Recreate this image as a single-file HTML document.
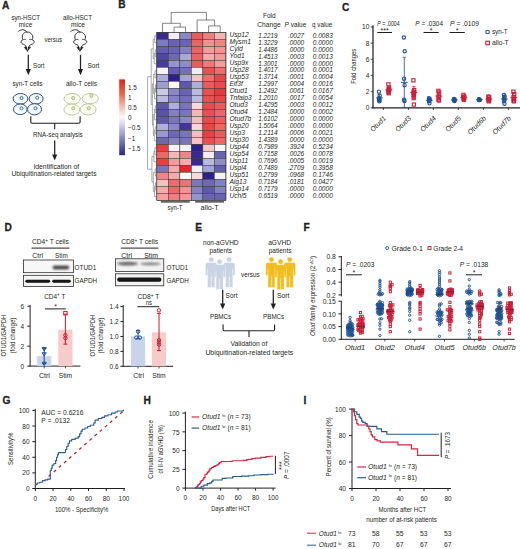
<!DOCTYPE html>
<html><head><meta charset="utf-8"><style>
html,body{margin:0;padding:0;background:#fff;}
svg{display:block;font-family:"Liberation Sans", sans-serif;}
text{stroke:#231f20;stroke-width:0.0px;paint-order:stroke;}
</style></head><body>
<svg width="520" height="549" viewBox="0 0 520 549" fill="#231f20">
<rect width="520" height="549" fill="#fff"/>
<text x="2.00" y="8.60" font-size="10.2" font-weight="bold" style="stroke:#231f20;stroke-width:0.3px">A</text>
<text x="11.40" y="19.60" font-size="6.3" textLength="28.60" lengthAdjust="spacingAndGlyphs">syn-HSCT</text>
<text x="18.80" y="27.20" font-size="6.3" textLength="13.50" lengthAdjust="spacingAndGlyphs">mice</text>
<text x="63.00" y="19.60" font-size="6.3" textLength="29.00" lengthAdjust="spacingAndGlyphs">allo-HSCT</text>
<text x="71.00" y="27.20" font-size="6.3" textLength="14.00" lengthAdjust="spacingAndGlyphs">mice</text>
<text x="44.40" y="42.20" font-size="6.3" textLength="17.60" lengthAdjust="spacingAndGlyphs">versus</text>
<path d="M18.00,31.70 C18.83,31.20 18.50,30.77 20.50,30.20 C22.50,29.63 21.73,29.37 24.00,30.00 C26.27,30.63 26.20,31.40 27.30,32.10 " fill="none" stroke="#231f20" stroke-width="0.95"/>
<path d="M25.60,45.60 C25.10,45.27 25.33,45.33 24.10,44.60 C22.87,43.87 22.87,44.53 21.90,43.40 C20.93,42.27 20.97,42.47 21.20,41.20 C21.43,39.93 22.23,41.00 22.60,39.60 C22.97,38.20 21.97,39.00 22.30,37.00 C22.63,35.00 21.93,35.23 23.60,33.60 C25.27,31.97 24.77,32.03 27.30,32.10 C29.83,32.17 29.37,32.17 31.20,33.80 C33.03,35.43 32.40,35.07 32.80,37.00 C33.20,38.93 32.00,38.20 32.40,39.60 C32.80,41.00 33.70,39.93 34.00,41.20 C34.30,42.47 34.30,42.27 33.30,43.40 C32.30,44.53 32.30,43.87 31.00,44.60 C29.70,45.33 29.93,45.27 29.40,45.60 " fill="none" stroke="#231f20" stroke-width="0.95"/>
<path d="M22.80,40.10 C23.30,39.87 23.27,39.53 24.30,39.40 C25.33,39.27 25.37,39.60 25.90,39.70 M29.20,39.70 C29.73,39.60 29.77,39.27 30.80,39.40 C31.83,39.53 31.80,39.87 32.30,40.10 " fill="none" stroke="#231f20" stroke-width="0.8"/>
<path d="M25.60,45.6 L27.35,51.4 L29.40,45.6" fill="none" stroke="#231f20" stroke-width="0.9"/>
<path d="M24.20,47.3 L26.50,46.9 L26.40,50.0 Z M30.60,47.3 L28.30,46.9 L28.40,50.0 Z" fill="#231f20" stroke="#231f20" stroke-width="0.5"/>
<path d="M70.60,31.70 C71.43,31.20 71.10,30.77 73.10,30.20 C75.10,29.63 74.33,29.37 76.60,30.00 C78.87,30.63 78.80,31.40 79.90,32.10 " fill="none" stroke="#231f20" stroke-width="0.95"/>
<path d="M78.20,45.60 C77.70,45.27 77.93,45.33 76.70,44.60 C75.47,43.87 75.47,44.53 74.50,43.40 C73.53,42.27 73.57,42.47 73.80,41.20 C74.03,39.93 74.83,41.00 75.20,39.60 C75.57,38.20 74.57,39.00 74.90,37.00 C75.23,35.00 74.53,35.23 76.20,33.60 C77.87,31.97 77.37,32.03 79.90,32.10 C82.43,32.17 81.97,32.17 83.80,33.80 C85.63,35.43 85.00,35.07 85.40,37.00 C85.80,38.93 84.60,38.20 85.00,39.60 C85.40,41.00 86.30,39.93 86.60,41.20 C86.90,42.47 86.90,42.27 85.90,43.40 C84.90,44.53 84.90,43.87 83.60,44.60 C82.30,45.33 82.53,45.27 82.00,45.60 " fill="none" stroke="#231f20" stroke-width="0.95"/>
<path d="M75.40,40.10 C75.90,39.87 75.87,39.53 76.90,39.40 C77.93,39.27 77.97,39.60 78.50,39.70 M81.80,39.70 C82.33,39.60 82.37,39.27 83.40,39.40 C84.43,39.53 84.40,39.87 84.90,40.10 " fill="none" stroke="#231f20" stroke-width="0.8"/>
<path d="M78.20,45.6 L79.95,51.4 L82.00,45.6" fill="none" stroke="#231f20" stroke-width="0.9"/>
<path d="M76.80,47.3 L79.10,46.9 L79.00,50.0 Z M83.20,47.3 L80.90,46.9 L81.00,50.0 Z" fill="#231f20" stroke="#231f20" stroke-width="0.5"/>
<line x1="28.30" y1="54.80" x2="28.30" y2="69.50" stroke="#231f20" stroke-width="1.25"/>
<path d="M25.70,69.00 L30.90,69.00 L28.30,75.20 Z" fill="#231f20" stroke="none" stroke-width="0.7"/>
<line x1="80.50" y1="54.80" x2="80.50" y2="69.50" stroke="#231f20" stroke-width="1.25"/>
<path d="M77.90,69.00 L83.10,69.00 L80.50,75.20 Z" fill="#231f20" stroke="none" stroke-width="0.7"/>
<text x="33.00" y="67.60" font-size="6.3" textLength="11.40" lengthAdjust="spacingAndGlyphs">Sort</text>
<text x="87.40" y="67.60" font-size="6.3" textLength="12.00" lengthAdjust="spacingAndGlyphs">Sort</text>
<text x="12.40" y="86.20" font-size="6.3" textLength="30.00" lengthAdjust="spacingAndGlyphs">syn-T cells</text>
<text x="66.00" y="86.20" font-size="6.3" textLength="31.00" lengthAdjust="spacingAndGlyphs">allo-T cells</text>
<ellipse cx="20.50" cy="98.80" rx="7.40" ry="5.30" fill="#f3f8fc" stroke="#2b4f7e" stroke-width="1.0"/>
<circle cx="21.50" cy="98.00" r="1.55" fill="#e8f1fa" stroke="#3a74b0" stroke-width="1.0"/>
<ellipse cx="36.10" cy="98.80" rx="7.00" ry="5.30" fill="#f3f8fc" stroke="#2b4f7e" stroke-width="1.0"/>
<circle cx="37.20" cy="97.70" r="1.55" fill="#e8f1fa" stroke="#3a74b0" stroke-width="1.0"/>
<ellipse cx="20.30" cy="109.30" rx="6.80" ry="5.30" fill="#f3f8fc" stroke="#2b4f7e" stroke-width="1.0"/>
<circle cx="21.50" cy="108.30" r="1.55" fill="#e8f1fa" stroke="#3a74b0" stroke-width="1.0"/>
<ellipse cx="34.50" cy="109.30" rx="7.00" ry="5.60" fill="#f3f8fc" stroke="#2b4f7e" stroke-width="1.0"/>
<circle cx="35.50" cy="108.30" r="1.55" fill="#e8f1fa" stroke="#3a74b0" stroke-width="1.0"/>
<ellipse cx="72.20" cy="98.80" rx="8.20" ry="5.30" fill="#fbfcf3" stroke="#bcc493" stroke-width="0.95"/>
<circle cx="73.20" cy="98.00" r="1.55" fill="#e9ebcf" stroke="#aeb67e" stroke-width="0.95"/>
<ellipse cx="90.30" cy="98.60" rx="8.20" ry="5.10" fill="#fbfcf3" stroke="#bcc493" stroke-width="0.95"/>
<circle cx="91.40" cy="95.80" r="1.55" fill="#e9ebcf" stroke="#aeb67e" stroke-width="0.95"/>
<ellipse cx="71.80" cy="109.60" rx="7.90" ry="5.50" fill="#fbfcf3" stroke="#bcc493" stroke-width="0.95"/>
<circle cx="73.20" cy="108.30" r="1.55" fill="#e9ebcf" stroke="#aeb67e" stroke-width="0.95"/>
<ellipse cx="88.20" cy="109.40" rx="7.90" ry="5.60" fill="#fbfcf3" stroke="#bcc493" stroke-width="0.95"/>
<circle cx="88.90" cy="108.30" r="1.55" fill="#e9ebcf" stroke="#aeb67e" stroke-width="0.95"/>
<path d="M30.8,116.3 L30.8,122 Q30.8,123.2 32,123.2 L78.9,123.2 Q80.1,123.2 80.1,122 L80.1,116.3 M54.7,123.2 L54.7,129.3" fill="none" stroke="#231f20" stroke-width="1.1"/>
<text x="33.00" y="137.20" font-size="6.3" textLength="49.70" lengthAdjust="spacingAndGlyphs">RNA-seq analysis</text>
<line x1="54.70" y1="140.60" x2="54.70" y2="154.90" stroke="#231f20" stroke-width="1.25"/>
<path d="M52.10,154.40 L57.30,154.40 L54.70,160.60 Z" fill="#231f20" stroke="none" stroke-width="0.7"/>
<text x="33.40" y="168.80" font-size="6.3" textLength="45.80" lengthAdjust="spacingAndGlyphs">Identification of</text>
<text x="11.40" y="176.00" font-size="6.3" textLength="85.10" lengthAdjust="spacingAndGlyphs">Ubiquitination-related targets</text>
<text x="118.20" y="8.30" font-size="10.2" font-weight="bold" style="stroke:#231f20;stroke-width:0.3px">B</text>
<rect x="156.80" y="32.30" width="11.52" height="7.00" fill="#382b8f" stroke="#333" stroke-width="0.5"/>
<rect x="168.32" y="32.30" width="11.52" height="7.00" fill="#f7edf0" stroke="#333" stroke-width="0.5"/>
<rect x="179.84" y="32.30" width="11.52" height="7.00" fill="#8987c6" stroke="#333" stroke-width="0.5"/>
<rect x="191.36" y="32.30" width="11.52" height="7.00" fill="#ea5c5c" stroke="#333" stroke-width="0.5"/>
<rect x="202.88" y="32.30" width="11.52" height="7.00" fill="#ef7f7e" stroke="#333" stroke-width="0.5"/>
<rect x="214.40" y="32.30" width="11.52" height="7.00" fill="#f4b7b6" stroke="#333" stroke-width="0.5"/>
<rect x="156.80" y="39.30" width="11.52" height="7.00" fill="#7e7bbf" stroke="#333" stroke-width="0.5"/>
<rect x="168.32" y="39.30" width="11.52" height="7.00" fill="#6964b1" stroke="#333" stroke-width="0.5"/>
<rect x="179.84" y="39.30" width="11.52" height="7.00" fill="#6964b1" stroke="#333" stroke-width="0.5"/>
<rect x="191.36" y="39.30" width="11.52" height="7.00" fill="#eb6262" stroke="#333" stroke-width="0.5"/>
<rect x="202.88" y="39.30" width="11.52" height="7.00" fill="#f19190" stroke="#333" stroke-width="0.5"/>
<rect x="214.40" y="39.30" width="11.52" height="7.00" fill="#ef8584" stroke="#333" stroke-width="0.5"/>
<rect x="156.80" y="46.30" width="11.52" height="7.00" fill="#645ead" stroke="#333" stroke-width="0.5"/>
<rect x="168.32" y="46.30" width="11.52" height="7.00" fill="#6964b1" stroke="#333" stroke-width="0.5"/>
<rect x="179.84" y="46.30" width="11.52" height="7.00" fill="#8481c3" stroke="#333" stroke-width="0.5"/>
<rect x="191.36" y="46.30" width="11.52" height="7.00" fill="#eb6262" stroke="#333" stroke-width="0.5"/>
<rect x="202.88" y="46.30" width="11.52" height="7.00" fill="#f29d9b" stroke="#333" stroke-width="0.5"/>
<rect x="214.40" y="46.30" width="11.52" height="7.00" fill="#f19190" stroke="#333" stroke-width="0.5"/>
<rect x="156.80" y="53.30" width="11.52" height="7.00" fill="#5047a0" stroke="#333" stroke-width="0.5"/>
<rect x="168.32" y="53.30" width="11.52" height="7.00" fill="#6f69b4" stroke="#333" stroke-width="0.5"/>
<rect x="179.84" y="53.30" width="11.52" height="7.00" fill="#a9a9d7" stroke="#333" stroke-width="0.5"/>
<rect x="191.36" y="53.30" width="11.52" height="7.00" fill="#eb6262" stroke="#333" stroke-width="0.5"/>
<rect x="202.88" y="53.30" width="11.52" height="7.00" fill="#f3acab" stroke="#333" stroke-width="0.5"/>
<rect x="214.40" y="53.30" width="11.52" height="7.00" fill="#f29896" stroke="#333" stroke-width="0.5"/>
<rect x="156.80" y="60.30" width="11.52" height="7.00" fill="#463c99" stroke="#333" stroke-width="0.5"/>
<rect x="168.32" y="60.30" width="11.52" height="7.00" fill="#9494ce" stroke="#333" stroke-width="0.5"/>
<rect x="179.84" y="60.30" width="11.52" height="7.00" fill="#8e8dca" stroke="#333" stroke-width="0.5"/>
<rect x="191.36" y="60.30" width="11.52" height="7.00" fill="#ea5c5c" stroke="#333" stroke-width="0.5"/>
<rect x="202.88" y="60.30" width="11.52" height="7.00" fill="#ee7978" stroke="#333" stroke-width="0.5"/>
<rect x="214.40" y="60.30" width="11.52" height="7.00" fill="#f29d9b" stroke="#333" stroke-width="0.5"/>
<rect x="156.80" y="67.30" width="11.52" height="7.00" fill="#f8f6f9" stroke="#333" stroke-width="0.5"/>
<rect x="168.32" y="67.30" width="11.52" height="7.00" fill="#645ead" stroke="#333" stroke-width="0.5"/>
<rect x="179.84" y="67.30" width="11.52" height="7.00" fill="#746fb8" stroke="#333" stroke-width="0.5"/>
<rect x="191.36" y="67.30" width="11.52" height="7.00" fill="#f7edf0" stroke="#333" stroke-width="0.5"/>
<rect x="202.88" y="67.30" width="11.52" height="7.00" fill="#e85151" stroke="#333" stroke-width="0.5"/>
<rect x="214.40" y="67.30" width="11.52" height="7.00" fill="#ec6d6d" stroke="#333" stroke-width="0.5"/>
<rect x="156.80" y="74.30" width="11.52" height="7.00" fill="#afaeda" stroke="#333" stroke-width="0.5"/>
<rect x="168.32" y="74.30" width="11.52" height="7.00" fill="#2e2088" stroke="#333" stroke-width="0.5"/>
<rect x="179.84" y="74.30" width="11.52" height="7.00" fill="#a4a4d5" stroke="#333" stroke-width="0.5"/>
<rect x="191.36" y="74.30" width="11.52" height="7.00" fill="#f5c2c2" stroke="#333" stroke-width="0.5"/>
<rect x="202.88" y="74.30" width="11.52" height="7.00" fill="#ec6d6d" stroke="#333" stroke-width="0.5"/>
<rect x="214.40" y="74.30" width="11.52" height="7.00" fill="#e74546" stroke="#333" stroke-width="0.5"/>
<rect x="156.80" y="81.30" width="11.52" height="7.00" fill="#9e9ed2" stroke="#333" stroke-width="0.5"/>
<rect x="168.32" y="81.30" width="11.52" height="7.00" fill="#f8f6f9" stroke="#333" stroke-width="0.5"/>
<rect x="179.84" y="81.30" width="11.52" height="7.00" fill="#5f58aa" stroke="#333" stroke-width="0.5"/>
<rect x="191.36" y="81.30" width="11.52" height="7.00" fill="#afaeda" stroke="#333" stroke-width="0.5"/>
<rect x="202.88" y="81.30" width="11.52" height="7.00" fill="#ea5c5c" stroke="#333" stroke-width="0.5"/>
<rect x="214.40" y="81.30" width="11.52" height="7.00" fill="#e74b4c" stroke="#333" stroke-width="0.5"/>
<rect x="156.80" y="88.30" width="11.52" height="7.00" fill="#cccbe6" stroke="#333" stroke-width="0.5"/>
<rect x="168.32" y="88.30" width="11.52" height="7.00" fill="#8987c6" stroke="#333" stroke-width="0.5"/>
<rect x="179.84" y="88.30" width="11.52" height="7.00" fill="#6964b1" stroke="#333" stroke-width="0.5"/>
<rect x="191.36" y="88.30" width="11.52" height="7.00" fill="#babadf" stroke="#333" stroke-width="0.5"/>
<rect x="202.88" y="88.30" width="11.52" height="7.00" fill="#e85151" stroke="#333" stroke-width="0.5"/>
<rect x="214.40" y="88.30" width="11.52" height="7.00" fill="#e53a3b" stroke="#333" stroke-width="0.5"/>
<rect x="156.80" y="95.30" width="11.52" height="7.00" fill="#babadf" stroke="#333" stroke-width="0.5"/>
<rect x="168.32" y="95.30" width="11.52" height="7.00" fill="#8481c3" stroke="#333" stroke-width="0.5"/>
<rect x="179.84" y="95.30" width="11.52" height="7.00" fill="#746fb8" stroke="#333" stroke-width="0.5"/>
<rect x="191.36" y="95.30" width="11.52" height="7.00" fill="#babadf" stroke="#333" stroke-width="0.5"/>
<rect x="202.88" y="95.30" width="11.52" height="7.00" fill="#e85151" stroke="#333" stroke-width="0.5"/>
<rect x="214.40" y="95.30" width="11.52" height="7.00" fill="#e74546" stroke="#333" stroke-width="0.5"/>
<rect x="156.80" y="102.30" width="11.52" height="7.00" fill="#5f58aa" stroke="#333" stroke-width="0.5"/>
<rect x="168.32" y="102.30" width="11.52" height="7.00" fill="#afaeda" stroke="#333" stroke-width="0.5"/>
<rect x="179.84" y="102.30" width="11.52" height="7.00" fill="#7975bb" stroke="#333" stroke-width="0.5"/>
<rect x="191.36" y="102.30" width="11.52" height="7.00" fill="#f6d9da" stroke="#333" stroke-width="0.5"/>
<rect x="202.88" y="102.30" width="11.52" height="7.00" fill="#e74b4c" stroke="#333" stroke-width="0.5"/>
<rect x="214.40" y="102.30" width="11.52" height="7.00" fill="#ea5c5c" stroke="#333" stroke-width="0.5"/>
<rect x="156.80" y="109.30" width="11.52" height="7.00" fill="#5a52a6" stroke="#333" stroke-width="0.5"/>
<rect x="168.32" y="109.30" width="11.52" height="7.00" fill="#8481c3" stroke="#333" stroke-width="0.5"/>
<rect x="179.84" y="109.30" width="11.52" height="7.00" fill="#7975bb" stroke="#333" stroke-width="0.5"/>
<rect x="191.36" y="109.30" width="11.52" height="7.00" fill="#f4b7b6" stroke="#333" stroke-width="0.5"/>
<rect x="202.88" y="109.30" width="11.52" height="7.00" fill="#e85151" stroke="#333" stroke-width="0.5"/>
<rect x="214.40" y="109.30" width="11.52" height="7.00" fill="#eb6867" stroke="#333" stroke-width="0.5"/>
<rect x="156.80" y="116.30" width="11.52" height="7.00" fill="#5f58aa" stroke="#333" stroke-width="0.5"/>
<rect x="168.32" y="116.30" width="11.52" height="7.00" fill="#7975bb" stroke="#333" stroke-width="0.5"/>
<rect x="179.84" y="116.30" width="11.52" height="7.00" fill="#8987c6" stroke="#333" stroke-width="0.5"/>
<rect x="191.36" y="116.30" width="11.52" height="7.00" fill="#f4bcbc" stroke="#333" stroke-width="0.5"/>
<rect x="202.88" y="116.30" width="11.52" height="7.00" fill="#e74b4c" stroke="#333" stroke-width="0.5"/>
<rect x="214.40" y="116.30" width="11.52" height="7.00" fill="#ea5c5c" stroke="#333" stroke-width="0.5"/>
<rect x="156.80" y="123.30" width="11.52" height="7.00" fill="#afaeda" stroke="#333" stroke-width="0.5"/>
<rect x="168.32" y="123.30" width="11.52" height="7.00" fill="#8987c6" stroke="#333" stroke-width="0.5"/>
<rect x="179.84" y="123.30" width="11.52" height="7.00" fill="#413695" stroke="#333" stroke-width="0.5"/>
<rect x="191.36" y="123.30" width="11.52" height="7.00" fill="#f6d3d4" stroke="#333" stroke-width="0.5"/>
<rect x="202.88" y="123.30" width="11.52" height="7.00" fill="#e74546" stroke="#333" stroke-width="0.5"/>
<rect x="214.40" y="123.30" width="11.52" height="7.00" fill="#eb6867" stroke="#333" stroke-width="0.5"/>
<rect x="156.80" y="130.30" width="11.52" height="7.00" fill="#9999d0" stroke="#333" stroke-width="0.5"/>
<rect x="168.32" y="130.30" width="11.52" height="7.00" fill="#6f69b4" stroke="#333" stroke-width="0.5"/>
<rect x="179.84" y="130.30" width="11.52" height="7.00" fill="#7975bb" stroke="#333" stroke-width="0.5"/>
<rect x="191.36" y="130.30" width="11.52" height="7.00" fill="#f4bcbc" stroke="#333" stroke-width="0.5"/>
<rect x="202.88" y="130.30" width="11.52" height="7.00" fill="#e64041" stroke="#333" stroke-width="0.5"/>
<rect x="214.40" y="130.30" width="11.52" height="7.00" fill="#ea5c5c" stroke="#333" stroke-width="0.5"/>
<rect x="156.80" y="137.30" width="11.52" height="7.00" fill="#6f69b4" stroke="#333" stroke-width="0.5"/>
<rect x="168.32" y="137.30" width="11.52" height="7.00" fill="#8481c3" stroke="#333" stroke-width="0.5"/>
<rect x="179.84" y="137.30" width="11.52" height="7.00" fill="#7975bb" stroke="#333" stroke-width="0.5"/>
<rect x="191.36" y="137.30" width="11.52" height="7.00" fill="#f5c2c2" stroke="#333" stroke-width="0.5"/>
<rect x="202.88" y="137.30" width="11.52" height="7.00" fill="#e85151" stroke="#333" stroke-width="0.5"/>
<rect x="214.40" y="137.30" width="11.52" height="7.00" fill="#eb6867" stroke="#333" stroke-width="0.5"/>
<rect x="156.80" y="144.30" width="11.52" height="7.00" fill="#e64041" stroke="#333" stroke-width="0.5"/>
<rect x="168.32" y="144.30" width="11.52" height="7.00" fill="#f4f2f7" stroke="#333" stroke-width="0.5"/>
<rect x="179.84" y="144.30" width="11.52" height="7.00" fill="#f4f2f7" stroke="#333" stroke-width="0.5"/>
<rect x="191.36" y="144.30" width="11.52" height="7.00" fill="#2e2088" stroke="#333" stroke-width="0.5"/>
<rect x="202.88" y="144.30" width="11.52" height="7.00" fill="#f5c7c8" stroke="#333" stroke-width="0.5"/>
<rect x="214.40" y="144.30" width="11.52" height="7.00" fill="#f8f6f9" stroke="#333" stroke-width="0.5"/>
<rect x="156.80" y="151.30" width="11.52" height="7.00" fill="#eb6867" stroke="#333" stroke-width="0.5"/>
<rect x="168.32" y="151.30" width="11.52" height="7.00" fill="#f4b7b6" stroke="#333" stroke-width="0.5"/>
<rect x="179.84" y="151.30" width="11.52" height="7.00" fill="#ef8584" stroke="#333" stroke-width="0.5"/>
<rect x="191.36" y="151.30" width="11.52" height="7.00" fill="#382b8f" stroke="#333" stroke-width="0.5"/>
<rect x="202.88" y="151.30" width="11.52" height="7.00" fill="#f7edf0" stroke="#333" stroke-width="0.5"/>
<rect x="214.40" y="151.30" width="11.52" height="7.00" fill="#6964b1" stroke="#333" stroke-width="0.5"/>
<rect x="156.80" y="158.30" width="11.52" height="7.00" fill="#e64041" stroke="#333" stroke-width="0.5"/>
<rect x="168.32" y="158.30" width="11.52" height="7.00" fill="#f29d9b" stroke="#333" stroke-width="0.5"/>
<rect x="179.84" y="158.30" width="11.52" height="7.00" fill="#f3acab" stroke="#333" stroke-width="0.5"/>
<rect x="191.36" y="158.30" width="11.52" height="7.00" fill="#382b8f" stroke="#333" stroke-width="0.5"/>
<rect x="202.88" y="158.30" width="11.52" height="7.00" fill="#babadf" stroke="#333" stroke-width="0.5"/>
<rect x="214.40" y="158.30" width="11.52" height="7.00" fill="#8e8dca" stroke="#333" stroke-width="0.5"/>
<rect x="156.80" y="165.30" width="11.52" height="7.00" fill="#7975bb" stroke="#333" stroke-width="0.5"/>
<rect x="168.32" y="165.30" width="11.52" height="7.00" fill="#f3acab" stroke="#333" stroke-width="0.5"/>
<rect x="179.84" y="165.30" width="11.52" height="7.00" fill="#e3292b" stroke="#333" stroke-width="0.5"/>
<rect x="191.36" y="165.30" width="11.52" height="7.00" fill="#f4f2f7" stroke="#333" stroke-width="0.5"/>
<rect x="202.88" y="165.30" width="11.52" height="7.00" fill="#a4a4d5" stroke="#333" stroke-width="0.5"/>
<rect x="214.40" y="165.30" width="11.52" height="7.00" fill="#645ead" stroke="#333" stroke-width="0.5"/>
<rect x="156.80" y="172.30" width="11.52" height="7.00" fill="#ef8584" stroke="#333" stroke-width="0.5"/>
<rect x="168.32" y="172.30" width="11.52" height="7.00" fill="#f3acab" stroke="#333" stroke-width="0.5"/>
<rect x="179.84" y="172.30" width="11.52" height="7.00" fill="#f8f6f9" stroke="#333" stroke-width="0.5"/>
<rect x="191.36" y="172.30" width="11.52" height="7.00" fill="#f6d9da" stroke="#333" stroke-width="0.5"/>
<rect x="202.88" y="172.30" width="11.52" height="7.00" fill="#2e2088" stroke="#333" stroke-width="0.5"/>
<rect x="214.40" y="172.30" width="11.52" height="7.00" fill="#f4f2f7" stroke="#333" stroke-width="0.5"/>
<rect x="156.80" y="179.30" width="11.52" height="7.00" fill="#f5c2c2" stroke="#333" stroke-width="0.5"/>
<rect x="168.32" y="179.30" width="11.52" height="7.00" fill="#ec6d6d" stroke="#333" stroke-width="0.5"/>
<rect x="179.84" y="179.30" width="11.52" height="7.00" fill="#ed7373" stroke="#333" stroke-width="0.5"/>
<rect x="191.36" y="179.30" width="11.52" height="7.00" fill="#7975bb" stroke="#333" stroke-width="0.5"/>
<rect x="202.88" y="179.30" width="11.52" height="7.00" fill="#6f69b4" stroke="#333" stroke-width="0.5"/>
<rect x="214.40" y="179.30" width="11.52" height="7.00" fill="#8481c3" stroke="#333" stroke-width="0.5"/>
<rect x="156.80" y="186.30" width="11.52" height="7.00" fill="#f3acab" stroke="#333" stroke-width="0.5"/>
<rect x="168.32" y="186.30" width="11.52" height="7.00" fill="#eb6867" stroke="#333" stroke-width="0.5"/>
<rect x="179.84" y="186.30" width="11.52" height="7.00" fill="#f19190" stroke="#333" stroke-width="0.5"/>
<rect x="191.36" y="186.30" width="11.52" height="7.00" fill="#8481c3" stroke="#333" stroke-width="0.5"/>
<rect x="202.88" y="186.30" width="11.52" height="7.00" fill="#5f58aa" stroke="#333" stroke-width="0.5"/>
<rect x="214.40" y="186.30" width="11.52" height="7.00" fill="#8481c3" stroke="#333" stroke-width="0.5"/>
<rect x="156.80" y="193.30" width="11.52" height="7.00" fill="#f3a2a0" stroke="#333" stroke-width="0.5"/>
<rect x="168.32" y="193.30" width="11.52" height="7.00" fill="#ef7f7e" stroke="#333" stroke-width="0.5"/>
<rect x="179.84" y="193.30" width="11.52" height="7.00" fill="#f29896" stroke="#333" stroke-width="0.5"/>
<rect x="191.36" y="193.30" width="11.52" height="7.00" fill="#9494ce" stroke="#333" stroke-width="0.5"/>
<rect x="202.88" y="193.30" width="11.52" height="7.00" fill="#6964b1" stroke="#333" stroke-width="0.5"/>
<rect x="214.40" y="193.30" width="11.52" height="7.00" fill="#6964b1" stroke="#333" stroke-width="0.5"/>
<rect x="156.80" y="32.30" width="69.12" height="168.00" fill="none" stroke="#2a2a2a" stroke-width="0.5"/>
<text x="229.40" y="37.40" font-size="6.7" font-style="italic">Usp12</text>
<text x="258.20" y="37.60" font-size="6.8" font-style="italic" textLength="19.40" lengthAdjust="spacingAndGlyphs">1.2219</text>
<text x="287.90" y="37.60" font-size="6.8" font-style="italic" textLength="16.30" lengthAdjust="spacingAndGlyphs">.0027</text>
<text x="312.70" y="37.60" font-size="6.8" font-style="italic" textLength="20.10" lengthAdjust="spacingAndGlyphs">0.0083</text>
<text x="229.40" y="44.38" font-size="6.7" font-style="italic">Mysm1</text>
<text x="258.20" y="44.58" font-size="6.8" font-style="italic" textLength="19.40" lengthAdjust="spacingAndGlyphs">1.3229</text>
<text x="287.90" y="44.58" font-size="6.8" font-style="italic" textLength="16.30" lengthAdjust="spacingAndGlyphs">.0000</text>
<text x="312.70" y="44.58" font-size="6.8" font-style="italic" textLength="20.10" lengthAdjust="spacingAndGlyphs">0.0000</text>
<text x="229.40" y="51.35" font-size="6.7" font-style="italic">Cyld</text>
<text x="258.20" y="51.55" font-size="6.8" font-style="italic" textLength="19.40" lengthAdjust="spacingAndGlyphs">1.4486</text>
<text x="287.90" y="51.55" font-size="6.8" font-style="italic" textLength="16.30" lengthAdjust="spacingAndGlyphs">.0000</text>
<text x="312.70" y="51.55" font-size="6.8" font-style="italic" textLength="20.10" lengthAdjust="spacingAndGlyphs">0.0000</text>
<text x="229.40" y="58.32" font-size="6.7" font-style="italic">Yod1</text>
<text x="258.20" y="58.52" font-size="6.8" font-style="italic" textLength="19.40" lengthAdjust="spacingAndGlyphs">1.4513</text>
<text x="287.90" y="58.52" font-size="6.8" font-style="italic" textLength="16.30" lengthAdjust="spacingAndGlyphs">.0003</text>
<text x="312.70" y="58.52" font-size="6.8" font-style="italic" textLength="20.10" lengthAdjust="spacingAndGlyphs">0.0013</text>
<text x="229.40" y="65.30" font-size="6.7" font-style="italic">Usp9x</text>
<text x="258.20" y="65.50" font-size="6.8" font-style="italic" textLength="19.40" lengthAdjust="spacingAndGlyphs">1.3001</text>
<text x="287.90" y="65.50" font-size="6.8" font-style="italic" textLength="16.30" lengthAdjust="spacingAndGlyphs">.0000</text>
<text x="312.70" y="65.50" font-size="6.8" font-style="italic" textLength="20.10" lengthAdjust="spacingAndGlyphs">0.0000</text>
<text x="229.40" y="72.27" font-size="6.7" font-style="italic">Usp28</text>
<text x="258.20" y="72.47" font-size="6.8" font-style="italic" textLength="19.40" lengthAdjust="spacingAndGlyphs">1.4017</text>
<text x="287.90" y="72.47" font-size="6.8" font-style="italic" textLength="16.30" lengthAdjust="spacingAndGlyphs">.0000</text>
<text x="312.70" y="72.47" font-size="6.8" font-style="italic" textLength="20.10" lengthAdjust="spacingAndGlyphs">0.0001</text>
<text x="229.40" y="79.25" font-size="6.7" font-style="italic">Usp53</text>
<text x="258.20" y="79.45" font-size="6.8" font-style="italic" textLength="19.40" lengthAdjust="spacingAndGlyphs">1.3714</text>
<text x="287.90" y="79.45" font-size="6.8" font-style="italic" textLength="16.30" lengthAdjust="spacingAndGlyphs">.0001</text>
<text x="312.70" y="79.45" font-size="6.8" font-style="italic" textLength="20.10" lengthAdjust="spacingAndGlyphs">0.0004</text>
<text x="229.40" y="86.22" font-size="6.7" font-style="italic">Eif3f</text>
<text x="258.20" y="86.42" font-size="6.8" font-style="italic" textLength="19.40" lengthAdjust="spacingAndGlyphs">1.2997</text>
<text x="287.90" y="86.42" font-size="6.8" font-style="italic" textLength="16.30" lengthAdjust="spacingAndGlyphs">.0004</text>
<text x="312.70" y="86.42" font-size="6.8" font-style="italic" textLength="20.10" lengthAdjust="spacingAndGlyphs">0.0016</text>
<text x="229.40" y="93.20" font-size="6.7" font-style="italic">Otud1</text>
<text x="258.20" y="93.40" font-size="6.8" font-style="italic" textLength="19.40" lengthAdjust="spacingAndGlyphs">1.2492</text>
<text x="287.90" y="93.40" font-size="6.8" font-style="italic" textLength="16.30" lengthAdjust="spacingAndGlyphs">.0061</text>
<text x="312.70" y="93.40" font-size="6.8" font-style="italic" textLength="20.10" lengthAdjust="spacingAndGlyphs">0.0167</text>
<text x="229.40" y="100.17" font-size="6.7" font-style="italic">Tnfaip3</text>
<text x="258.20" y="100.37" font-size="6.8" font-style="italic" textLength="19.40" lengthAdjust="spacingAndGlyphs">1.2010</text>
<text x="287.90" y="100.37" font-size="6.8" font-style="italic" textLength="16.30" lengthAdjust="spacingAndGlyphs">.0017</text>
<text x="312.70" y="100.37" font-size="6.8" font-style="italic" textLength="20.10" lengthAdjust="spacingAndGlyphs">0.0054</text>
<text x="229.40" y="107.15" font-size="6.7" font-style="italic">Otud3</text>
<text x="258.20" y="107.35" font-size="6.8" font-style="italic" textLength="19.40" lengthAdjust="spacingAndGlyphs">1.4295</text>
<text x="287.90" y="107.35" font-size="6.8" font-style="italic" textLength="16.30" lengthAdjust="spacingAndGlyphs">.0003</text>
<text x="312.70" y="107.35" font-size="6.8" font-style="italic" textLength="20.10" lengthAdjust="spacingAndGlyphs">0.0012</text>
<text x="229.40" y="114.12" font-size="6.7" font-style="italic">Otud4</text>
<text x="258.20" y="114.32" font-size="6.8" font-style="italic" textLength="19.40" lengthAdjust="spacingAndGlyphs">1.2484</text>
<text x="287.90" y="114.32" font-size="6.8" font-style="italic" textLength="16.30" lengthAdjust="spacingAndGlyphs">.0000</text>
<text x="312.70" y="114.32" font-size="6.8" font-style="italic" textLength="20.10" lengthAdjust="spacingAndGlyphs">0.0002</text>
<text x="229.40" y="121.10" font-size="6.7" font-style="italic">Otud7b</text>
<text x="258.20" y="121.30" font-size="6.8" font-style="italic" textLength="19.40" lengthAdjust="spacingAndGlyphs">1.6102</text>
<text x="287.90" y="121.30" font-size="6.8" font-style="italic" textLength="16.30" lengthAdjust="spacingAndGlyphs">.0000</text>
<text x="312.70" y="121.30" font-size="6.8" font-style="italic" textLength="20.10" lengthAdjust="spacingAndGlyphs">0.0000</text>
<text x="229.40" y="128.07" font-size="6.7" font-style="italic">Usp20</text>
<text x="258.20" y="128.27" font-size="6.8" font-style="italic" textLength="19.40" lengthAdjust="spacingAndGlyphs">1.5064</text>
<text x="287.90" y="128.27" font-size="6.8" font-style="italic" textLength="16.30" lengthAdjust="spacingAndGlyphs">.0000</text>
<text x="312.70" y="128.27" font-size="6.8" font-style="italic" textLength="20.10" lengthAdjust="spacingAndGlyphs">0.0000</text>
<text x="229.40" y="135.05" font-size="6.7" font-style="italic">Usp3</text>
<text x="258.20" y="135.25" font-size="6.8" font-style="italic" textLength="19.40" lengthAdjust="spacingAndGlyphs">1.2114</text>
<text x="287.90" y="135.25" font-size="6.8" font-style="italic" textLength="16.30" lengthAdjust="spacingAndGlyphs">.0006</text>
<text x="312.70" y="135.25" font-size="6.8" font-style="italic" textLength="20.10" lengthAdjust="spacingAndGlyphs">0.0021</text>
<text x="229.40" y="142.03" font-size="6.7" font-style="italic">Usp30</text>
<text x="258.20" y="142.22" font-size="6.8" font-style="italic" textLength="19.40" lengthAdjust="spacingAndGlyphs">1.4389</text>
<text x="287.90" y="142.22" font-size="6.8" font-style="italic" textLength="16.30" lengthAdjust="spacingAndGlyphs">.0000</text>
<text x="312.70" y="142.22" font-size="6.8" font-style="italic" textLength="20.10" lengthAdjust="spacingAndGlyphs">0.0000</text>
<text x="229.40" y="149.00" font-size="6.7" font-style="italic">Usp44</text>
<text x="258.20" y="149.20" font-size="6.8" font-style="italic" textLength="19.40" lengthAdjust="spacingAndGlyphs">0.7989</text>
<text x="287.90" y="149.20" font-size="6.8" font-style="italic" textLength="16.30" lengthAdjust="spacingAndGlyphs">.3924</text>
<text x="312.70" y="149.20" font-size="6.8" font-style="italic" textLength="20.10" lengthAdjust="spacingAndGlyphs">0.5234</text>
<text x="229.40" y="155.97" font-size="6.7" font-style="italic">Usp54</text>
<text x="258.20" y="156.17" font-size="6.8" font-style="italic" textLength="19.40" lengthAdjust="spacingAndGlyphs">0.7158</text>
<text x="287.90" y="156.17" font-size="6.8" font-style="italic" textLength="16.30" lengthAdjust="spacingAndGlyphs">.0026</text>
<text x="312.70" y="156.17" font-size="6.8" font-style="italic" textLength="20.10" lengthAdjust="spacingAndGlyphs">0.0078</text>
<text x="229.40" y="162.95" font-size="6.7" font-style="italic">Usp11</text>
<text x="258.20" y="163.15" font-size="6.8" font-style="italic" textLength="19.40" lengthAdjust="spacingAndGlyphs">0.7696</text>
<text x="287.90" y="163.15" font-size="6.8" font-style="italic" textLength="16.30" lengthAdjust="spacingAndGlyphs">.0005</text>
<text x="312.70" y="163.15" font-size="6.8" font-style="italic" textLength="20.10" lengthAdjust="spacingAndGlyphs">0.0019</text>
<text x="229.40" y="169.92" font-size="6.7" font-style="italic">Uspl4</text>
<text x="258.20" y="170.12" font-size="6.8" font-style="italic" textLength="19.40" lengthAdjust="spacingAndGlyphs">0.7489</text>
<text x="287.90" y="170.12" font-size="6.8" font-style="italic" textLength="16.30" lengthAdjust="spacingAndGlyphs">.2709</text>
<text x="312.70" y="170.12" font-size="6.8" font-style="italic" textLength="20.10" lengthAdjust="spacingAndGlyphs">0.3958</text>
<text x="229.40" y="176.90" font-size="6.7" font-style="italic">Usp51</text>
<text x="258.20" y="177.10" font-size="6.8" font-style="italic" textLength="19.40" lengthAdjust="spacingAndGlyphs">0.2799</text>
<text x="287.90" y="177.10" font-size="6.8" font-style="italic" textLength="16.30" lengthAdjust="spacingAndGlyphs">.0968</text>
<text x="312.70" y="177.10" font-size="6.8" font-style="italic" textLength="20.10" lengthAdjust="spacingAndGlyphs">0.1746</text>
<text x="229.40" y="183.87" font-size="6.7" font-style="italic">Alg13</text>
<text x="258.20" y="184.07" font-size="6.8" font-style="italic" textLength="19.40" lengthAdjust="spacingAndGlyphs">0.7184</text>
<text x="287.90" y="184.07" font-size="6.8" font-style="italic" textLength="16.30" lengthAdjust="spacingAndGlyphs">.0181</text>
<text x="312.70" y="184.07" font-size="6.8" font-style="italic" textLength="20.10" lengthAdjust="spacingAndGlyphs">0.0427</text>
<text x="229.40" y="190.85" font-size="6.7" font-style="italic">Usp14</text>
<text x="258.20" y="191.05" font-size="6.8" font-style="italic" textLength="19.40" lengthAdjust="spacingAndGlyphs">0.7179</text>
<text x="287.90" y="191.05" font-size="6.8" font-style="italic" textLength="16.30" lengthAdjust="spacingAndGlyphs">.0000</text>
<text x="312.70" y="191.05" font-size="6.8" font-style="italic" textLength="20.10" lengthAdjust="spacingAndGlyphs">0.0000</text>
<text x="229.40" y="197.82" font-size="6.7" font-style="italic">Uchl5</text>
<text x="258.20" y="198.02" font-size="6.8" font-style="italic" textLength="19.40" lengthAdjust="spacingAndGlyphs">0.6519</text>
<text x="287.90" y="198.02" font-size="6.8" font-style="italic" textLength="16.30" lengthAdjust="spacingAndGlyphs">.0000</text>
<text x="312.70" y="198.02" font-size="6.8" font-style="italic" textLength="20.10" lengthAdjust="spacingAndGlyphs">0.0000</text>
<text x="262.90" y="18.30" font-size="6.3" textLength="12.70" lengthAdjust="spacingAndGlyphs">Fold</text>
<text x="257.30" y="26.90" font-size="6.3" textLength="23.30" lengthAdjust="spacingAndGlyphs">Change</text>
<text x="284.60" y="26.90" font-size="6.3" textLength="21.80" lengthAdjust="spacingAndGlyphs"><tspan font-style="italic">P</tspan> value</text>
<text x="312.00" y="26.90" font-size="6.3" textLength="20.30" lengthAdjust="spacingAndGlyphs">q value</text>
<path d="M162.56,32.3 V23.3 H180.2 V27.1 M174.08,32.3 V27.1 H185.60 V32.3 M171.2,23.3 V12.4 H206.4 V20.0 M197.12,32.3 V20.0 H214.6 V25.9 M208.64,32.3 V25.9 H220.16 V32.3" fill="none" stroke="#333" stroke-width="0.6"/>
<path d="M156.80,35.80 H154.80 V42.80 H156.80 M156.80,49.80 H155.30 V56.80 H156.80 M155.30,53.30 H154.20 V63.80 H156.80 M154.80,39.30 H153.20 V58.55 H154.20 M156.80,70.80 H155.00 V77.80 H156.80 M156.80,84.80 H155.50 V91.80 H156.80 M155.50,88.30 H154.60 V98.80 H156.80 M155.00,74.30 H153.60 V93.55 H154.60 M156.80,105.80 H155.30 V112.80 H156.80 M155.30,109.30 H154.40 V119.80 H156.80 M156.80,126.80 H155.10 V133.80 H156.80 M155.10,130.30 H154.30 V140.80 H156.80 M154.40,114.55 H153.30 V135.55 H154.30 M153.60,83.92 H152.40 V125.05 H153.30 M153.20,48.92 H151.20 V104.49 H152.40 M156.80,147.80 H154.90 V154.80 H156.80 M154.90,151.30 H153.90 V161.80 H156.80 M156.80,168.80 H155.20 V175.80 H156.80 M156.80,182.80 H155.40 V189.80 H156.80 M155.40,186.30 H154.50 V196.80 H156.80 M155.20,172.30 H153.30 V191.55 H154.50 M153.90,156.55 H151.90 V181.93 H153.30 M151.20,76.71 H147.60 V169.24 H151.90 " fill="none" stroke="#555" stroke-width="0.5"/>
<defs><linearGradient id="cb" x1="0" y1="0" x2="0" y2="1"><stop offset="0" stop-color="#d8251c"/><stop offset="0.2" stop-color="#ec6a50"/><stop offset="0.4" stop-color="#f9d2c4"/><stop offset="0.5" stop-color="#fbf7f8"/><stop offset="0.6" stop-color="#d4d3ea"/><stop offset="0.8" stop-color="#7d7cbd"/><stop offset="1" stop-color="#2c2684"/></linearGradient></defs>
<rect x="119.20" y="79.40" width="5.80" height="75.80" fill="url(#cb)" stroke="none" stroke-width="0.5"/>
<text x="128.00" y="89.92" font-size="6.4">1.5</text>
<text x="128.00" y="100.05" font-size="6.4">1</text>
<text x="128.00" y="110.17" font-size="6.4">0.5</text>
<text x="128.00" y="120.30" font-size="6.4">0</text>
<text x="128.00" y="130.43" font-size="6.4">−0.5</text>
<text x="128.00" y="140.55" font-size="6.4">−1</text>
<text x="128.00" y="150.68" font-size="6.4">−1.5</text>
<line x1="160.80" y1="201.90" x2="189.80" y2="201.90" stroke="#333" stroke-width="1.3"/>
<line x1="195.20" y1="201.90" x2="224.00" y2="201.90" stroke="#333" stroke-width="1.3"/>
<text x="167.50" y="209.80" font-size="6.3" textLength="14.80" lengthAdjust="spacingAndGlyphs">syn-T</text>
<text x="200.60" y="209.80" font-size="6.3" textLength="18.10" lengthAdjust="spacingAndGlyphs">allo-T</text>
<text x="342.00" y="10.50" font-size="10.2" font-weight="bold" style="stroke:#231f20;stroke-width:0.3px">C</text>
<line x1="373.00" y1="25.30" x2="373.00" y2="108.40" stroke="#231f20" stroke-width="1.25"/>
<line x1="372.40" y1="107.80" x2="520.00" y2="107.80" stroke="#231f20" stroke-width="1.25"/>
<line x1="370.70" y1="107.80" x2="373.00" y2="107.80" stroke="#231f20" stroke-width="0.8"/>
<text x="369.40" y="110.20" font-size="6.6" text-anchor="end">0</text>
<line x1="370.70" y1="91.64" x2="373.00" y2="91.64" stroke="#231f20" stroke-width="0.8"/>
<text x="369.40" y="94.04" font-size="6.6" text-anchor="end">2</text>
<line x1="370.70" y1="75.48" x2="373.00" y2="75.48" stroke="#231f20" stroke-width="0.8"/>
<text x="369.40" y="77.88" font-size="6.6" text-anchor="end">4</text>
<line x1="370.70" y1="59.32" x2="373.00" y2="59.32" stroke="#231f20" stroke-width="0.8"/>
<text x="369.40" y="61.72" font-size="6.6" text-anchor="end">6</text>
<line x1="370.70" y1="43.16" x2="373.00" y2="43.16" stroke="#231f20" stroke-width="0.8"/>
<text x="369.40" y="45.56" font-size="6.6" text-anchor="end">8</text>
<line x1="370.70" y1="27.00" x2="373.00" y2="27.00" stroke="#231f20" stroke-width="0.8"/>
<text x="369.40" y="29.40" font-size="6.6" text-anchor="end">10</text>
<text x="356.20" y="66.30" font-size="6.3" text-anchor="middle" textLength="35.00" lengthAdjust="spacingAndGlyphs" transform="rotate(-90 356.20 66.30)">Fold changes</text>
<line x1="383.40" y1="107.80" x2="383.40" y2="110.00" stroke="#231f20" stroke-width="0.8"/>
<text x="386.40" y="118.80" font-size="7.0" text-anchor="end" font-style="italic" transform="rotate(-45 386.40 118.80)">Otud1</text>
<line x1="379.30" y1="94.20" x2="379.30" y2="101.47" stroke="#1d5192" stroke-width="0.8"/>
<line x1="377.70" y1="94.20" x2="380.90" y2="94.20" stroke="#1d5192" stroke-width="0.8"/>
<line x1="377.70" y1="101.47" x2="380.90" y2="101.47" stroke="#1d5192" stroke-width="0.8"/>
<line x1="375.90" y1="97.83" x2="382.70" y2="97.83" stroke="#1d5192" stroke-width="1.0"/>
<circle cx="378.90" cy="91.64" r="1.65" fill="none" stroke="#1d5192" stroke-width="1.1"/>
<circle cx="379.70" cy="95.68" r="1.65" fill="none" stroke="#1d5192" stroke-width="1.1"/>
<circle cx="379.10" cy="98.10" r="1.65" fill="none" stroke="#1d5192" stroke-width="1.1"/>
<circle cx="379.60" cy="99.72" r="1.65" fill="none" stroke="#1d5192" stroke-width="1.1"/>
<circle cx="379.00" cy="100.53" r="1.65" fill="none" stroke="#1d5192" stroke-width="1.1"/>
<circle cx="379.50" cy="101.34" r="1.65" fill="none" stroke="#1d5192" stroke-width="1.1"/>
<line x1="388.80" y1="87.04" x2="388.80" y2="92.80" stroke="#c8203a" stroke-width="0.8"/>
<line x1="387.20" y1="87.04" x2="390.40" y2="87.04" stroke="#c8203a" stroke-width="0.8"/>
<line x1="387.20" y1="92.80" x2="390.40" y2="92.80" stroke="#c8203a" stroke-width="0.8"/>
<line x1="385.40" y1="89.92" x2="392.20" y2="89.92" stroke="#c8203a" stroke-width="1.0"/>
<rect x="386.80" y="82.77" width="3.20" height="3.20" fill="none" stroke="#c8203a" stroke-width="1.1"/>
<rect x="387.60" y="86.00" width="3.20" height="3.20" fill="none" stroke="#c8203a" stroke-width="1.1"/>
<rect x="387.00" y="87.62" width="3.20" height="3.20" fill="none" stroke="#c8203a" stroke-width="1.1"/>
<rect x="387.50" y="88.42" width="3.20" height="3.20" fill="none" stroke="#c8203a" stroke-width="1.1"/>
<rect x="386.90" y="89.23" width="3.20" height="3.20" fill="none" stroke="#c8203a" stroke-width="1.1"/>
<rect x="387.40" y="90.04" width="3.20" height="3.20" fill="none" stroke="#c8203a" stroke-width="1.1"/>
<rect x="387.20" y="90.85" width="3.20" height="3.20" fill="none" stroke="#c8203a" stroke-width="1.1"/>
<rect x="387.10" y="91.66" width="3.20" height="3.20" fill="none" stroke="#c8203a" stroke-width="1.1"/>
<line x1="408.40" y1="107.80" x2="408.40" y2="110.00" stroke="#231f20" stroke-width="0.8"/>
<text x="411.40" y="118.80" font-size="7.0" text-anchor="end" font-style="italic" transform="rotate(-45 411.40 118.80)">Otud3</text>
<line x1="404.30" y1="57.30" x2="404.30" y2="107.40" stroke="#1d5192" stroke-width="0.8"/>
<line x1="402.70" y1="57.30" x2="405.90" y2="57.30" stroke="#1d5192" stroke-width="0.8"/>
<line x1="402.70" y1="107.40" x2="405.90" y2="107.40" stroke="#1d5192" stroke-width="0.8"/>
<line x1="400.90" y1="82.35" x2="407.70" y2="82.35" stroke="#1d5192" stroke-width="1.0"/>
<circle cx="403.90" cy="37.50" r="1.65" fill="none" stroke="#1d5192" stroke-width="1.1"/>
<circle cx="404.70" cy="51.24" r="1.65" fill="none" stroke="#1d5192" stroke-width="1.1"/>
<circle cx="404.10" cy="78.71" r="1.65" fill="none" stroke="#1d5192" stroke-width="1.1"/>
<circle cx="404.60" cy="85.18" r="1.65" fill="none" stroke="#1d5192" stroke-width="1.1"/>
<circle cx="404.00" cy="99.72" r="1.65" fill="none" stroke="#1d5192" stroke-width="1.1"/>
<circle cx="404.50" cy="100.93" r="1.65" fill="none" stroke="#1d5192" stroke-width="1.1"/>
<line x1="413.80" y1="86.39" x2="413.80" y2="98.51" stroke="#c8203a" stroke-width="0.8"/>
<line x1="412.20" y1="86.39" x2="415.40" y2="86.39" stroke="#c8203a" stroke-width="0.8"/>
<line x1="412.20" y1="98.51" x2="415.40" y2="98.51" stroke="#c8203a" stroke-width="0.8"/>
<line x1="410.40" y1="92.45" x2="417.20" y2="92.45" stroke="#c8203a" stroke-width="1.0"/>
<rect x="411.80" y="78.73" width="3.20" height="3.20" fill="none" stroke="#c8203a" stroke-width="1.1"/>
<rect x="412.60" y="88.42" width="3.20" height="3.20" fill="none" stroke="#c8203a" stroke-width="1.1"/>
<rect x="412.00" y="90.04" width="3.20" height="3.20" fill="none" stroke="#c8203a" stroke-width="1.1"/>
<rect x="412.50" y="90.85" width="3.20" height="3.20" fill="none" stroke="#c8203a" stroke-width="1.1"/>
<rect x="411.90" y="91.66" width="3.20" height="3.20" fill="none" stroke="#c8203a" stroke-width="1.1"/>
<rect x="412.40" y="92.46" width="3.20" height="3.20" fill="none" stroke="#c8203a" stroke-width="1.1"/>
<rect x="412.20" y="94.08" width="3.20" height="3.20" fill="none" stroke="#c8203a" stroke-width="1.1"/>
<rect x="412.10" y="96.50" width="3.20" height="3.20" fill="none" stroke="#c8203a" stroke-width="1.1"/>
<rect x="412.30" y="102.97" width="3.20" height="3.20" fill="none" stroke="#c8203a" stroke-width="1.1"/>
<line x1="433.40" y1="107.80" x2="433.40" y2="110.00" stroke="#231f20" stroke-width="0.8"/>
<text x="436.40" y="118.80" font-size="7.0" text-anchor="end" font-style="italic" transform="rotate(-45 436.40 118.80)">Otud4</text>
<line x1="429.30" y1="98.45" x2="429.30" y2="102.20" stroke="#1d5192" stroke-width="0.8"/>
<line x1="427.70" y1="98.45" x2="430.90" y2="98.45" stroke="#1d5192" stroke-width="0.8"/>
<line x1="427.70" y1="102.20" x2="430.90" y2="102.20" stroke="#1d5192" stroke-width="0.8"/>
<line x1="425.90" y1="100.33" x2="432.70" y2="100.33" stroke="#1d5192" stroke-width="1.0"/>
<circle cx="428.90" cy="98.10" r="1.65" fill="none" stroke="#1d5192" stroke-width="1.1"/>
<circle cx="429.70" cy="98.91" r="1.65" fill="none" stroke="#1d5192" stroke-width="1.1"/>
<circle cx="429.10" cy="99.72" r="1.65" fill="none" stroke="#1d5192" stroke-width="1.1"/>
<circle cx="429.60" cy="100.53" r="1.65" fill="none" stroke="#1d5192" stroke-width="1.1"/>
<circle cx="429.00" cy="101.34" r="1.65" fill="none" stroke="#1d5192" stroke-width="1.1"/>
<circle cx="429.50" cy="103.36" r="1.65" fill="none" stroke="#1d5192" stroke-width="1.1"/>
<line x1="438.80" y1="92.20" x2="438.80" y2="99.97" stroke="#c8203a" stroke-width="0.8"/>
<line x1="437.20" y1="92.20" x2="440.40" y2="92.20" stroke="#c8203a" stroke-width="0.8"/>
<line x1="437.20" y1="99.97" x2="440.40" y2="99.97" stroke="#c8203a" stroke-width="0.8"/>
<line x1="435.40" y1="96.08" x2="442.20" y2="96.08" stroke="#c8203a" stroke-width="1.0"/>
<rect x="436.80" y="89.23" width="3.20" height="3.20" fill="none" stroke="#c8203a" stroke-width="1.1"/>
<rect x="437.60" y="90.85" width="3.20" height="3.20" fill="none" stroke="#c8203a" stroke-width="1.1"/>
<rect x="437.00" y="94.08" width="3.20" height="3.20" fill="none" stroke="#c8203a" stroke-width="1.1"/>
<rect x="437.50" y="95.70" width="3.20" height="3.20" fill="none" stroke="#c8203a" stroke-width="1.1"/>
<rect x="436.90" y="98.12" width="3.20" height="3.20" fill="none" stroke="#c8203a" stroke-width="1.1"/>
<rect x="437.40" y="98.93" width="3.20" height="3.20" fill="none" stroke="#c8203a" stroke-width="1.1"/>
<line x1="458.40" y1="107.80" x2="458.40" y2="110.00" stroke="#231f20" stroke-width="0.8"/>
<text x="461.40" y="118.80" font-size="7.0" text-anchor="end" font-style="italic" transform="rotate(-45 461.40 118.80)">Otud5</text>
<line x1="454.30" y1="99.24" x2="454.30" y2="100.69" stroke="#1d5192" stroke-width="0.8"/>
<line x1="452.70" y1="99.24" x2="455.90" y2="99.24" stroke="#1d5192" stroke-width="0.8"/>
<line x1="452.70" y1="100.69" x2="455.90" y2="100.69" stroke="#1d5192" stroke-width="0.8"/>
<line x1="450.90" y1="99.96" x2="457.70" y2="99.96" stroke="#1d5192" stroke-width="1.0"/>
<circle cx="453.90" cy="98.91" r="1.65" fill="none" stroke="#1d5192" stroke-width="1.1"/>
<circle cx="454.70" cy="99.56" r="1.65" fill="none" stroke="#1d5192" stroke-width="1.1"/>
<circle cx="454.10" cy="99.72" r="1.65" fill="none" stroke="#1d5192" stroke-width="1.1"/>
<circle cx="454.60" cy="100.12" r="1.65" fill="none" stroke="#1d5192" stroke-width="1.1"/>
<circle cx="454.00" cy="100.53" r="1.65" fill="none" stroke="#1d5192" stroke-width="1.1"/>
<circle cx="454.50" cy="100.93" r="1.65" fill="none" stroke="#1d5192" stroke-width="1.1"/>
<line x1="463.80" y1="95.82" x2="463.80" y2="99.31" stroke="#c8203a" stroke-width="0.8"/>
<line x1="462.20" y1="95.82" x2="465.40" y2="95.82" stroke="#c8203a" stroke-width="0.8"/>
<line x1="462.20" y1="99.31" x2="465.40" y2="99.31" stroke="#c8203a" stroke-width="0.8"/>
<line x1="460.40" y1="97.57" x2="467.20" y2="97.57" stroke="#c8203a" stroke-width="1.0"/>
<rect x="461.80" y="93.27" width="3.20" height="3.20" fill="none" stroke="#c8203a" stroke-width="1.1"/>
<rect x="462.60" y="94.89" width="3.20" height="3.20" fill="none" stroke="#c8203a" stroke-width="1.1"/>
<rect x="462.00" y="95.70" width="3.20" height="3.20" fill="none" stroke="#c8203a" stroke-width="1.1"/>
<rect x="462.50" y="96.50" width="3.20" height="3.20" fill="none" stroke="#c8203a" stroke-width="1.1"/>
<rect x="461.90" y="97.31" width="3.20" height="3.20" fill="none" stroke="#c8203a" stroke-width="1.1"/>
<rect x="462.40" y="98.12" width="3.20" height="3.20" fill="none" stroke="#c8203a" stroke-width="1.1"/>
<line x1="483.40" y1="107.80" x2="483.40" y2="110.00" stroke="#231f20" stroke-width="0.8"/>
<text x="486.40" y="118.80" font-size="7.0" text-anchor="end" font-style="italic" transform="rotate(-45 486.40 118.80)">Otud6b</text>
<line x1="479.30" y1="99.49" x2="479.30" y2="100.03" stroke="#1d5192" stroke-width="0.8"/>
<line x1="477.70" y1="99.49" x2="480.90" y2="99.49" stroke="#1d5192" stroke-width="0.8"/>
<line x1="477.70" y1="100.03" x2="480.90" y2="100.03" stroke="#1d5192" stroke-width="0.8"/>
<line x1="475.90" y1="99.76" x2="482.70" y2="99.76" stroke="#1d5192" stroke-width="1.0"/>
<circle cx="478.90" cy="99.32" r="1.65" fill="none" stroke="#1d5192" stroke-width="1.1"/>
<circle cx="479.70" cy="99.72" r="1.65" fill="none" stroke="#1d5192" stroke-width="1.1"/>
<circle cx="479.10" cy="99.72" r="1.65" fill="none" stroke="#1d5192" stroke-width="1.1"/>
<circle cx="479.60" cy="99.72" r="1.65" fill="none" stroke="#1d5192" stroke-width="1.1"/>
<circle cx="479.00" cy="99.96" r="1.65" fill="none" stroke="#1d5192" stroke-width="1.1"/>
<circle cx="479.50" cy="100.12" r="1.65" fill="none" stroke="#1d5192" stroke-width="1.1"/>
<line x1="488.80" y1="97.17" x2="488.80" y2="100.92" stroke="#c8203a" stroke-width="0.8"/>
<line x1="487.20" y1="97.17" x2="490.40" y2="97.17" stroke="#c8203a" stroke-width="0.8"/>
<line x1="487.20" y1="100.92" x2="490.40" y2="100.92" stroke="#c8203a" stroke-width="0.8"/>
<line x1="485.40" y1="99.05" x2="492.20" y2="99.05" stroke="#c8203a" stroke-width="1.0"/>
<rect x="486.80" y="94.89" width="3.20" height="3.20" fill="none" stroke="#c8203a" stroke-width="1.1"/>
<rect x="487.60" y="95.70" width="3.20" height="3.20" fill="none" stroke="#c8203a" stroke-width="1.1"/>
<rect x="487.00" y="97.31" width="3.20" height="3.20" fill="none" stroke="#c8203a" stroke-width="1.1"/>
<rect x="487.50" y="98.12" width="3.20" height="3.20" fill="none" stroke="#c8203a" stroke-width="1.1"/>
<rect x="486.90" y="98.93" width="3.20" height="3.20" fill="none" stroke="#c8203a" stroke-width="1.1"/>
<rect x="487.40" y="99.74" width="3.20" height="3.20" fill="none" stroke="#c8203a" stroke-width="1.1"/>
<line x1="508.40" y1="107.80" x2="508.40" y2="110.00" stroke="#231f20" stroke-width="0.8"/>
<text x="511.40" y="118.80" font-size="7.0" text-anchor="end" font-style="italic" transform="rotate(-45 511.40 118.80)">Otud7b</text>
<line x1="504.30" y1="95.80" x2="504.30" y2="102.30" stroke="#1d5192" stroke-width="0.8"/>
<line x1="502.70" y1="95.80" x2="505.90" y2="95.80" stroke="#1d5192" stroke-width="0.8"/>
<line x1="502.70" y1="102.30" x2="505.90" y2="102.30" stroke="#1d5192" stroke-width="0.8"/>
<line x1="500.90" y1="99.05" x2="507.70" y2="99.05" stroke="#1d5192" stroke-width="1.0"/>
<circle cx="503.90" cy="94.87" r="1.65" fill="none" stroke="#1d5192" stroke-width="1.1"/>
<circle cx="504.70" cy="96.49" r="1.65" fill="none" stroke="#1d5192" stroke-width="1.1"/>
<circle cx="504.10" cy="98.10" r="1.65" fill="none" stroke="#1d5192" stroke-width="1.1"/>
<circle cx="504.60" cy="99.72" r="1.65" fill="none" stroke="#1d5192" stroke-width="1.1"/>
<circle cx="504.00" cy="101.34" r="1.65" fill="none" stroke="#1d5192" stroke-width="1.1"/>
<circle cx="504.50" cy="103.76" r="1.65" fill="none" stroke="#1d5192" stroke-width="1.1"/>
<line x1="513.80" y1="93.51" x2="513.80" y2="101.09" stroke="#c8203a" stroke-width="0.8"/>
<line x1="512.20" y1="93.51" x2="515.40" y2="93.51" stroke="#c8203a" stroke-width="0.8"/>
<line x1="512.20" y1="101.09" x2="515.40" y2="101.09" stroke="#c8203a" stroke-width="0.8"/>
<line x1="510.40" y1="97.30" x2="517.20" y2="97.30" stroke="#c8203a" stroke-width="1.0"/>
<rect x="511.80" y="90.04" width="3.20" height="3.20" fill="none" stroke="#c8203a" stroke-width="1.1"/>
<rect x="512.60" y="92.46" width="3.20" height="3.20" fill="none" stroke="#c8203a" stroke-width="1.1"/>
<rect x="512.00" y="95.70" width="3.20" height="3.20" fill="none" stroke="#c8203a" stroke-width="1.1"/>
<rect x="512.50" y="97.31" width="3.20" height="3.20" fill="none" stroke="#c8203a" stroke-width="1.1"/>
<rect x="511.90" y="98.93" width="3.20" height="3.20" fill="none" stroke="#c8203a" stroke-width="1.1"/>
<rect x="512.40" y="99.74" width="3.20" height="3.20" fill="none" stroke="#c8203a" stroke-width="1.1"/>
<text x="377.30" y="26.00" font-size="6.7" textLength="22.30" lengthAdjust="spacingAndGlyphs"><tspan font-style="italic">P</tspan> = .0004</text>
<line x1="377.30" y1="32.50" x2="392.00" y2="32.50" stroke="#231f20" stroke-width="1.0"/>
<text x="384.65" y="33.00" font-size="7" text-anchor="middle">***</text>
<text x="415.30" y="26.00" font-size="6.7" textLength="27.70" lengthAdjust="spacingAndGlyphs"><tspan font-style="italic">P</tspan> = .0304</text>
<line x1="423.50" y1="32.50" x2="438.70" y2="32.50" stroke="#231f20" stroke-width="1.0"/>
<text x="431.10" y="33.00" font-size="7" text-anchor="middle">*</text>
<text x="450.10" y="26.00" font-size="6.7" textLength="28.90" lengthAdjust="spacingAndGlyphs"><tspan font-style="italic">P</tspan> = .0109</text>
<line x1="449.50" y1="32.50" x2="464.80" y2="32.50" stroke="#231f20" stroke-width="1.0"/>
<text x="457.15" y="33.00" font-size="7" text-anchor="middle">*</text>
<circle cx="487.60" cy="32.00" r="1.80" fill="none" stroke="#1d5192" stroke-width="1.1"/>
<text x="492.00" y="34.40" font-size="6.7" textLength="15.50" lengthAdjust="spacingAndGlyphs">syn-T</text>
<rect x="485.80" y="41.20" width="3.60" height="3.60" fill="none" stroke="#c8203a" stroke-width="1.1"/>
<text x="492.00" y="45.40" font-size="6.7" textLength="16.70" lengthAdjust="spacingAndGlyphs">allo-T</text>
<text x="4.40" y="230.70" font-size="10.2" font-weight="bold" style="stroke:#231f20;stroke-width:0.3px">D</text>
<defs><filter id="bl" x="-20%" y="-100%" width="140%" height="300%"><feGaussianBlur stdDeviation="0.55"/></filter><filter id="bl2" x="-20%" y="-100%" width="140%" height="300%"><feGaussianBlur stdDeviation="0.8"/></filter></defs>
<text x="32.00" y="244.00" font-size="6.3" textLength="36.90" lengthAdjust="spacingAndGlyphs">CD4<tspan font-size="4.54" dy="-2.4">+</tspan><tspan dy="2.4"> T cells</tspan></text>
<line x1="31.60" y1="248.10" x2="69.40" y2="248.10" stroke="#231f20" stroke-width="1.0"/>
<text x="32.30" y="257.90" font-size="6.3" textLength="10.70" lengthAdjust="spacingAndGlyphs">Ctrl</text>
<text x="55.00" y="257.90" font-size="6.3" textLength="12.70" lengthAdjust="spacingAndGlyphs">Stim</text>
<rect x="23.40" y="260.00" width="50.10" height="12.70" fill="#f7f7f7" stroke="#231f20" stroke-width="0.75"/>
<rect x="23.40" y="275.30" width="50.10" height="11.20" fill="#f4f4f4" stroke="#231f20" stroke-width="0.75"/>
<rect x="52.6" y="265.4" width="16.6" height="4.2" rx="2" fill="#4a4a4a" filter="url(#bl2)"/>
<rect x="25.4" y="279.8" width="24.8" height="2.9" rx="1.45" fill="#151515" filter="url(#bl)"/>
<rect x="52.2" y="279.8" width="18.6" height="2.9" rx="1.45" fill="#151515" filter="url(#bl)"/>
<text x="74.60" y="270.30" font-size="6.3" textLength="21.60" lengthAdjust="spacingAndGlyphs">OTUD1</text>
<text x="74.60" y="283.40" font-size="6.3" textLength="22.40" lengthAdjust="spacingAndGlyphs">GAPDH</text>
<text x="121.20" y="244.00" font-size="6.3" textLength="36.80" lengthAdjust="spacingAndGlyphs">CD8<tspan font-size="4.54" dy="-2.4">+</tspan><tspan dy="2.4"> T cells</tspan></text>
<line x1="120.80" y1="248.10" x2="158.40" y2="248.10" stroke="#231f20" stroke-width="1.0"/>
<text x="121.20" y="257.90" font-size="6.3" textLength="10.80" lengthAdjust="spacingAndGlyphs">Ctrl</text>
<text x="144.20" y="257.90" font-size="6.3" textLength="13.80" lengthAdjust="spacingAndGlyphs">Stim</text>
<rect x="115.50" y="258.80" width="48.30" height="12.70" fill="#f2f2f2" stroke="#231f20" stroke-width="0.75"/>
<rect x="115.50" y="273.80" width="48.30" height="12.00" fill="#f2f2f2" stroke="#231f20" stroke-width="0.75"/>
<ellipse cx="127.5" cy="263.6" rx="10.5" ry="1.9" fill="#6a6a6a" filter="url(#bl2)"/>
<ellipse cx="150.5" cy="263.8" rx="10.5" ry="1.6" fill="#8a8a8a" filter="url(#bl2)"/>
<rect x="117.2" y="277.4" width="44.2" height="4.4" rx="2" fill="#151515" filter="url(#bl)"/>
<text x="166.50" y="270.30" font-size="6.3" textLength="21.60" lengthAdjust="spacingAndGlyphs">OTUD1</text>
<text x="166.50" y="283.40" font-size="6.3" textLength="22.40" lengthAdjust="spacingAndGlyphs">GAPDH</text>
<text x="44.20" y="298.60" font-size="6.3" textLength="21.20" lengthAdjust="spacingAndGlyphs">CD4<tspan font-size="4.54" dy="-2.4">+</tspan><tspan dy="2.4"> T</tspan></text>
<line x1="30.10" y1="305.00" x2="30.10" y2="366.45" stroke="#231f20" stroke-width="1.0"/>
<line x1="29.70" y1="366.10" x2="80.40" y2="366.10" stroke="#231f20" stroke-width="1.0"/>
<line x1="27.30" y1="366.10" x2="30.10" y2="366.10" stroke="#231f20" stroke-width="1.0"/>
<text x="24.10" y="368.60" font-size="6.5" text-anchor="end">0</text>
<line x1="27.30" y1="346.14" x2="30.10" y2="346.14" stroke="#231f20" stroke-width="1.0"/>
<text x="24.10" y="348.64" font-size="6.5" text-anchor="end">2</text>
<line x1="27.30" y1="326.18" x2="30.10" y2="326.18" stroke="#231f20" stroke-width="1.0"/>
<text x="24.10" y="328.68" font-size="6.5" text-anchor="end">4</text>
<line x1="27.30" y1="306.22" x2="30.10" y2="306.22" stroke="#231f20" stroke-width="1.0"/>
<text x="24.10" y="308.72" font-size="6.5" text-anchor="end">6</text>
<line x1="44.20" y1="366.10" x2="44.20" y2="368.30" stroke="#231f20" stroke-width="0.8"/>
<line x1="65.40" y1="366.10" x2="65.40" y2="368.30" stroke="#231f20" stroke-width="0.8"/>
<rect x="37.10" y="356.12" width="14.20" height="9.98" fill="#c7d4ec" stroke="none" stroke-width="0.5"/>
<rect x="58.30" y="329.67" width="14.20" height="36.43" fill="#f6cbc8" stroke="none" stroke-width="0.5"/>
<line x1="44.20" y1="348.64" x2="44.20" y2="363.61" stroke="#1d5192" stroke-width="1.05"/>
<line x1="42.20" y1="348.64" x2="46.20" y2="348.64" stroke="#1d5192" stroke-width="1.05"/>
<line x1="42.20" y1="363.61" x2="46.20" y2="363.61" stroke="#1d5192" stroke-width="1.05"/>
<path d="M42.10,347.53 L46.30,347.53 L44.2,350.83 Z" fill="none" stroke="#1d5192" stroke-width="1.0"/>
<path d="M42.10,352.72 L46.30,352.72 L44.2,356.02 Z" fill="none" stroke="#1d5192" stroke-width="1.0"/>
<path d="M42.10,362.21 L46.30,362.21 L44.2,365.50 Z" fill="none" stroke="#1d5192" stroke-width="1.0"/>
<line x1="65.40" y1="314.20" x2="65.40" y2="344.14" stroke="#c8203a" stroke-width="1.05"/>
<line x1="63.40" y1="314.20" x2="67.40" y2="314.20" stroke="#c8203a" stroke-width="1.05"/>
<line x1="63.40" y1="344.14" x2="67.40" y2="344.14" stroke="#c8203a" stroke-width="1.05"/>
<rect x="63.70" y="311.51" width="3.40" height="3.40" fill="none" stroke="#c8203a" stroke-width="1.0"/>
<circle cx="65.40" cy="335.16" r="1.70" fill="none" stroke="#c8203a" stroke-width="1.0"/>
<circle cx="65.40" cy="338.16" r="1.70" fill="none" stroke="#c8203a" stroke-width="1.0"/>
<line x1="45.00" y1="308.90" x2="65.80" y2="308.90" stroke="#231f20" stroke-width="1.0"/>
<text x="55.60" y="309.20" font-size="7" text-anchor="middle">*</text>
<text x="38.90" y="378.10" font-size="6.3" textLength="11.00" lengthAdjust="spacingAndGlyphs">Ctrl</text>
<text x="58.70" y="378.10" font-size="6.3" textLength="13.40" lengthAdjust="spacingAndGlyphs">Stim</text>
<text x="6.10" y="335.70" font-size="6.6" text-anchor="middle" textLength="41.40" lengthAdjust="spacingAndGlyphs" transform="rotate(-90 6.10 335.70)">OTUD1/GAPDH</text>
<text x="14.60" y="335.60" font-size="6.6" text-anchor="middle" textLength="36.00" lengthAdjust="spacingAndGlyphs" transform="rotate(-90 14.60 335.60)">(fold change)</text>
<text x="137.40" y="299.00" font-size="6.3" textLength="21.90" lengthAdjust="spacingAndGlyphs">CD8<tspan font-size="4.54" dy="-2.4">+</tspan><tspan dy="2.4"> T</tspan></text>
<line x1="123.20" y1="305.00" x2="123.20" y2="366.65" stroke="#231f20" stroke-width="1.0"/>
<line x1="122.80" y1="366.30" x2="173.10" y2="366.30" stroke="#231f20" stroke-width="1.0"/>
<line x1="120.40" y1="366.30" x2="123.20" y2="366.30" stroke="#231f20" stroke-width="1.0"/>
<text x="118.60" y="368.80" font-size="6.5" text-anchor="end">0.6</text>
<line x1="120.40" y1="351.38" x2="123.20" y2="351.38" stroke="#231f20" stroke-width="1.0"/>
<text x="118.60" y="353.88" font-size="6.5" text-anchor="end">0.8</text>
<line x1="120.40" y1="336.46" x2="123.20" y2="336.46" stroke="#231f20" stroke-width="1.0"/>
<text x="118.60" y="338.96" font-size="6.5" text-anchor="end">1.0</text>
<line x1="120.40" y1="321.54" x2="123.20" y2="321.54" stroke="#231f20" stroke-width="1.0"/>
<text x="118.60" y="324.04" font-size="6.5" text-anchor="end">1.2</text>
<line x1="120.40" y1="306.62" x2="123.20" y2="306.62" stroke="#231f20" stroke-width="1.0"/>
<text x="118.60" y="309.12" font-size="6.5" text-anchor="end">1.4</text>
<line x1="138.10" y1="366.30" x2="138.10" y2="368.50" stroke="#231f20" stroke-width="0.8"/>
<line x1="159.00" y1="366.30" x2="159.00" y2="368.50" stroke="#231f20" stroke-width="0.8"/>
<rect x="131.00" y="336.46" width="14.20" height="29.84" fill="#c7d4ec" stroke="none" stroke-width="0.5"/>
<rect x="151.90" y="332.36" width="14.20" height="33.94" fill="#f6cbc8" stroke="none" stroke-width="0.5"/>
<line x1="138.10" y1="330.49" x2="138.10" y2="338.70" stroke="#1d5192" stroke-width="1.05"/>
<line x1="136.10" y1="330.49" x2="140.10" y2="330.49" stroke="#1d5192" stroke-width="1.05"/>
<line x1="136.10" y1="338.70" x2="140.10" y2="338.70" stroke="#1d5192" stroke-width="1.05"/>
<circle cx="138.10" cy="331.61" r="1.70" fill="none" stroke="#1d5192" stroke-width="1.0"/>
<circle cx="136.30" cy="337.58" r="1.70" fill="none" stroke="#1d5192" stroke-width="1.0"/>
<circle cx="139.90" cy="337.58" r="1.70" fill="none" stroke="#1d5192" stroke-width="1.0"/>
<line x1="159.00" y1="313.33" x2="159.00" y2="350.63" stroke="#c8203a" stroke-width="1.05"/>
<line x1="157.00" y1="313.33" x2="161.00" y2="313.33" stroke="#c8203a" stroke-width="1.05"/>
<line x1="157.00" y1="350.63" x2="161.00" y2="350.63" stroke="#c8203a" stroke-width="1.05"/>
<circle cx="159.00" cy="310.35" r="1.70" fill="none" stroke="#c8203a" stroke-width="1.0"/>
<circle cx="159.00" cy="340.19" r="1.70" fill="none" stroke="#c8203a" stroke-width="1.0"/>
<circle cx="159.00" cy="342.43" r="1.70" fill="none" stroke="#c8203a" stroke-width="1.0"/>
<circle cx="159.00" cy="344.67" r="1.70" fill="none" stroke="#c8203a" stroke-width="1.0"/>
<line x1="137.40" y1="306.70" x2="159.30" y2="306.70" stroke="#231f20" stroke-width="1.0"/>
<text x="145.70" y="304.60" font-size="6.3" textLength="6.20" lengthAdjust="spacingAndGlyphs">ns</text>
<text x="133.30" y="378.10" font-size="6.3" textLength="10.60" lengthAdjust="spacingAndGlyphs">Ctrl</text>
<text x="152.20" y="378.10" font-size="6.3" textLength="13.50" lengthAdjust="spacingAndGlyphs">Stim</text>
<text x="95.20" y="335.70" font-size="6.6" text-anchor="middle" textLength="41.40" lengthAdjust="spacingAndGlyphs" transform="rotate(-90 95.20 335.70)">OTUD1/GAPDH</text>
<text x="103.20" y="335.60" font-size="6.6" text-anchor="middle" textLength="36.00" lengthAdjust="spacingAndGlyphs" transform="rotate(-90 103.20 335.60)">(fold change)</text>
<text x="195.20" y="231.40" font-size="10.2" font-weight="bold" style="stroke:#231f20;stroke-width:0.3px">E</text>
<text x="203.00" y="245.20" font-size="6.3" textLength="35.60" lengthAdjust="spacingAndGlyphs">non-aGVHD</text>
<text x="209.50" y="252.80" font-size="6.3" textLength="22.50" lengthAdjust="spacingAndGlyphs">patients</text>
<text x="268.20" y="245.20" font-size="6.3" textLength="22.80" lengthAdjust="spacingAndGlyphs">aGVHD</text>
<text x="268.70" y="252.80" font-size="6.3" textLength="22.80" lengthAdjust="spacingAndGlyphs">patients</text>
<circle cx="211.20" cy="259.60" r="2.40" fill="#c8d3e3" stroke="#e6ecf4" stroke-width="0.35"/>
<path d="M205.60,264.30 Q205.60,262.70 207.20,262.70 L215.20,262.70 Q216.80,262.70 216.80,264.30 L216.80,275.20 L215.00,275.20 L215.00,268.70 L214.60,268.70 L214.60,287.30 L211.45,287.30 L211.45,276.20 L210.95,276.20 L210.95,287.30 L207.80,287.30 L207.80,268.70 L207.40,268.70 L207.40,275.20 L205.60,275.20 Z" fill="#c8d3e3" stroke="#e6ecf4" stroke-width="0.35"/>
<circle cx="229.20" cy="259.60" r="2.40" fill="#c8d3e3" stroke="#e6ecf4" stroke-width="0.35"/>
<path d="M223.60,264.30 Q223.60,262.70 225.20,262.70 L233.20,262.70 Q234.80,262.70 234.80,264.30 L234.80,275.20 L233.00,275.20 L233.00,268.70 L232.60,268.70 L232.60,287.30 L229.45,287.30 L229.45,276.20 L228.95,276.20 L228.95,287.30 L225.80,287.30 L225.80,268.70 L225.40,268.70 L225.40,275.20 L223.60,275.20 Z" fill="#c8d3e3" stroke="#e6ecf4" stroke-width="0.35"/>
<circle cx="219.60" cy="261.70" r="2.40" fill="#c8d3e3" stroke="#e6ecf4" stroke-width="0.35"/>
<path d="M214.00,266.40 Q214.00,264.80 215.60,264.80 L223.60,264.80 Q225.20,264.80 225.20,266.40 L225.20,277.30 L223.40,277.30 L223.40,270.80 L223.00,270.80 L223.00,289.30 L219.85,289.30 L219.85,278.30 L219.35,278.30 L219.35,289.30 L216.20,289.30 L216.20,270.80 L215.80,270.80 L215.80,277.30 L214.00,277.30 Z" fill="#c8d3e3" stroke="#e6ecf4" stroke-width="0.35"/>
<circle cx="271.50" cy="259.60" r="2.40" fill="#f0be1f" stroke="#f8da7a" stroke-width="0.35"/>
<path d="M265.90,264.30 Q265.90,262.70 267.50,262.70 L275.50,262.70 Q277.10,262.70 277.10,264.30 L277.10,275.20 L275.30,275.20 L275.30,268.70 L274.90,268.70 L274.90,287.30 L271.75,287.30 L271.75,276.20 L271.25,276.20 L271.25,287.30 L268.10,287.30 L268.10,268.70 L267.70,268.70 L267.70,275.20 L265.90,275.20 Z" fill="#f0be1f" stroke="#f8da7a" stroke-width="0.35"/>
<circle cx="289.80" cy="259.60" r="2.40" fill="#f0be1f" stroke="#f8da7a" stroke-width="0.35"/>
<path d="M284.20,264.30 Q284.20,262.70 285.80,262.70 L293.80,262.70 Q295.40,262.70 295.40,264.30 L295.40,275.20 L293.60,275.20 L293.60,268.70 L293.20,268.70 L293.20,287.30 L290.05,287.30 L290.05,276.20 L289.55,276.20 L289.55,287.30 L286.40,287.30 L286.40,268.70 L286.00,268.70 L286.00,275.20 L284.20,275.20 Z" fill="#f0be1f" stroke="#f8da7a" stroke-width="0.35"/>
<circle cx="280.60" cy="261.70" r="2.40" fill="#f0be1f" stroke="#f8da7a" stroke-width="0.35"/>
<path d="M275.00,266.40 Q275.00,264.80 276.60,264.80 L284.60,264.80 Q286.20,264.80 286.20,266.40 L286.20,277.30 L284.40,277.30 L284.40,270.80 L284.00,270.80 L284.00,289.30 L280.85,289.30 L280.85,278.30 L280.35,278.30 L280.35,289.30 L277.20,289.30 L277.20,270.80 L276.80,270.80 L276.80,277.30 L275.00,277.30 Z" fill="#f0be1f" stroke="#f8da7a" stroke-width="0.35"/>
<text x="241.00" y="276.90" font-size="6.3" textLength="18.70" lengthAdjust="spacingAndGlyphs">versus</text>
<line x1="222.70" y1="289.80" x2="222.70" y2="303.90" stroke="#231f20" stroke-width="1.25"/>
<path d="M220.10,303.40 L225.30,303.40 L222.70,309.60 Z" fill="#231f20" stroke="none" stroke-width="0.7"/>
<line x1="273.30" y1="289.80" x2="273.30" y2="303.90" stroke="#231f20" stroke-width="1.25"/>
<path d="M270.70,303.40 L275.90,303.40 L273.30,309.60 Z" fill="#231f20" stroke="none" stroke-width="0.7"/>
<text x="225.60" y="298.10" font-size="6.3" textLength="11.90" lengthAdjust="spacingAndGlyphs">Sort</text>
<text x="276.90" y="298.10" font-size="6.3" textLength="12.50" lengthAdjust="spacingAndGlyphs">Sort</text>
<text x="210.00" y="319.20" font-size="6.3" textLength="21.20" lengthAdjust="spacingAndGlyphs">PBMCs</text>
<text x="263.10" y="319.20" font-size="6.3" textLength="21.10" lengthAdjust="spacingAndGlyphs">PBMCs</text>
<path d="M223.1,324.4 L223.1,329.6 Q223.1,330.8 224.3,330.8 L273.4,330.8 Q274.6,330.8 274.6,329.6 L274.6,324.4 M249.0,330.8 L249.0,336.9" fill="none" stroke="#231f20" stroke-width="1.1"/>
<text x="230.40" y="346.20" font-size="6.3" textLength="36.90" lengthAdjust="spacingAndGlyphs">Validation of</text>
<text x="205.40" y="354.60" font-size="6.3" textLength="87.90" lengthAdjust="spacingAndGlyphs">Ubiquitination-related targets</text>
<text x="303.60" y="231.40" font-size="10.2" font-weight="bold" style="stroke:#231f20;stroke-width:0.3px">F</text>
<circle cx="387.20" cy="248.10" r="1.55" fill="none" stroke="#1d5192" stroke-width="0.95"/>
<text x="391.40" y="250.50" font-size="6.8" textLength="31.60" lengthAdjust="spacingAndGlyphs">Grade 0-1</text>
<rect x="428.00" y="246.60" width="3.00" height="3.00" fill="none" stroke="#c8203a" stroke-width="0.95"/>
<text x="433.30" y="250.50" font-size="6.8" textLength="29.60" lengthAdjust="spacingAndGlyphs">Grade 2-4</text>
<line x1="341.30" y1="256.00" x2="341.30" y2="296.40" stroke="#231f20" stroke-width="1.0"/>
<line x1="341.30" y1="300.80" x2="341.30" y2="339.65" stroke="#231f20" stroke-width="1.0"/>
<line x1="340.90" y1="339.30" x2="514.70" y2="339.30" stroke="#231f20" stroke-width="1.0"/>
<line x1="338.50" y1="256.80" x2="341.30" y2="256.80" stroke="#231f20" stroke-width="1.0"/>
<text x="335.90" y="259.40" font-size="6.8" text-anchor="end">0.8</text>
<line x1="338.50" y1="269.50" x2="341.30" y2="269.50" stroke="#231f20" stroke-width="1.0"/>
<text x="335.90" y="272.10" font-size="6.8" text-anchor="end">0.6</text>
<line x1="338.50" y1="282.20" x2="341.30" y2="282.20" stroke="#231f20" stroke-width="1.0"/>
<text x="335.90" y="284.80" font-size="6.8" text-anchor="end">0.4</text>
<line x1="338.50" y1="294.90" x2="341.30" y2="294.90" stroke="#231f20" stroke-width="1.0"/>
<text x="335.90" y="297.50" font-size="6.8" text-anchor="end">0.2</text>
<line x1="338.50" y1="301.20" x2="341.30" y2="301.20" stroke="#231f20" stroke-width="1.0"/>
<text x="335.90" y="303.80" font-size="6.8" text-anchor="end">0.15</text>
<line x1="338.50" y1="313.90" x2="341.30" y2="313.90" stroke="#231f20" stroke-width="1.0"/>
<text x="335.90" y="316.50" font-size="6.8" text-anchor="end">0.10</text>
<line x1="338.50" y1="326.60" x2="341.30" y2="326.60" stroke="#231f20" stroke-width="1.0"/>
<text x="335.90" y="329.20" font-size="6.8" text-anchor="end">0.05</text>
<line x1="338.50" y1="339.30" x2="341.30" y2="339.30" stroke="#231f20" stroke-width="1.0"/>
<text x="335.90" y="341.90" font-size="6.8" text-anchor="end">0.00</text>
<text x="315.20" y="296.00" font-size="7.0" text-anchor="middle" textLength="80.00" lengthAdjust="spacingAndGlyphs" transform="rotate(-90 315.20 296.00)"><tspan font-style="italic">Otud</tspan> family expression (2<tspan font-size="3.8" dy="-2.2">−ΔCt</tspan><tspan dy="2.2">)</tspan></text>
<line x1="355.10" y1="339.30" x2="355.10" y2="341.50" stroke="#231f20" stroke-width="0.8"/>
<text x="355.10" y="349.80" font-size="7.0" text-anchor="middle" font-style="italic" textLength="20.20" lengthAdjust="spacingAndGlyphs">Otud1</text>
<circle cx="350.10" cy="335.88" r="1.15" fill="none" stroke="#1d5192" stroke-width="0.95"/>
<circle cx="351.80" cy="335.63" r="1.15" fill="none" stroke="#1d5192" stroke-width="0.95"/>
<circle cx="348.40" cy="335.22" r="1.15" fill="none" stroke="#1d5192" stroke-width="0.95"/>
<circle cx="352.84" cy="335.19" r="1.15" fill="none" stroke="#1d5192" stroke-width="0.95"/>
<circle cx="352.59" cy="335.05" r="1.15" fill="none" stroke="#1d5192" stroke-width="0.95"/>
<circle cx="347.71" cy="334.74" r="1.15" fill="none" stroke="#1d5192" stroke-width="0.95"/>
<circle cx="350.95" cy="334.70" r="1.15" fill="none" stroke="#1d5192" stroke-width="0.95"/>
<circle cx="352.37" cy="334.34" r="1.15" fill="none" stroke="#1d5192" stroke-width="0.95"/>
<circle cx="350.10" cy="333.74" r="1.15" fill="none" stroke="#1d5192" stroke-width="0.95"/>
<circle cx="351.80" cy="332.85" r="1.15" fill="none" stroke="#1d5192" stroke-width="0.95"/>
<circle cx="349.25" cy="332.73" r="1.15" fill="none" stroke="#1d5192" stroke-width="0.95"/>
<circle cx="347.55" cy="332.70" r="1.15" fill="none" stroke="#1d5192" stroke-width="0.95"/>
<circle cx="350.95" cy="331.89" r="1.15" fill="none" stroke="#1d5192" stroke-width="0.95"/>
<circle cx="348.40" cy="331.49" r="1.15" fill="none" stroke="#1d5192" stroke-width="0.95"/>
<circle cx="352.65" cy="331.45" r="1.15" fill="none" stroke="#1d5192" stroke-width="0.95"/>
<circle cx="350.10" cy="330.72" r="1.15" fill="none" stroke="#1d5192" stroke-width="0.95"/>
<circle cx="351.80" cy="330.46" r="1.15" fill="none" stroke="#1d5192" stroke-width="0.95"/>
<circle cx="347.55" cy="330.46" r="1.15" fill="none" stroke="#1d5192" stroke-width="0.95"/>
<circle cx="349.71" cy="330.39" r="1.15" fill="none" stroke="#1d5192" stroke-width="0.95"/>
<circle cx="349.97" cy="329.92" r="1.15" fill="none" stroke="#1d5192" stroke-width="0.95"/>
<circle cx="352.75" cy="329.71" r="1.15" fill="none" stroke="#1d5192" stroke-width="0.95"/>
<circle cx="348.66" cy="329.61" r="1.15" fill="none" stroke="#1d5192" stroke-width="0.95"/>
<circle cx="350.23" cy="329.56" r="1.15" fill="none" stroke="#1d5192" stroke-width="0.95"/>
<circle cx="352.55" cy="329.44" r="1.15" fill="none" stroke="#1d5192" stroke-width="0.95"/>
<circle cx="351.35" cy="329.42" r="1.15" fill="none" stroke="#1d5192" stroke-width="0.95"/>
<circle cx="349.92" cy="329.36" r="1.15" fill="none" stroke="#1d5192" stroke-width="0.95"/>
<circle cx="352.78" cy="329.13" r="1.15" fill="none" stroke="#1d5192" stroke-width="0.95"/>
<circle cx="351.87" cy="329.13" r="1.15" fill="none" stroke="#1d5192" stroke-width="0.95"/>
<circle cx="347.55" cy="328.70" r="1.15" fill="none" stroke="#1d5192" stroke-width="0.95"/>
<circle cx="350.68" cy="328.67" r="1.15" fill="none" stroke="#1d5192" stroke-width="0.95"/>
<circle cx="347.94" cy="328.48" r="1.15" fill="none" stroke="#1d5192" stroke-width="0.95"/>
<circle cx="349.25" cy="328.18" r="1.15" fill="none" stroke="#1d5192" stroke-width="0.95"/>
<circle cx="350.80" cy="328.16" r="1.15" fill="none" stroke="#1d5192" stroke-width="0.95"/>
<circle cx="349.85" cy="327.89" r="1.15" fill="none" stroke="#1d5192" stroke-width="0.95"/>
<circle cx="352.65" cy="327.45" r="1.15" fill="none" stroke="#1d5192" stroke-width="0.95"/>
<circle cx="348.44" cy="327.41" r="1.15" fill="none" stroke="#1d5192" stroke-width="0.95"/>
<circle cx="347.59" cy="326.97" r="1.15" fill="none" stroke="#1d5192" stroke-width="0.95"/>
<circle cx="350.26" cy="326.95" r="1.15" fill="none" stroke="#1d5192" stroke-width="0.95"/>
<circle cx="348.00" cy="326.56" r="1.15" fill="none" stroke="#1d5192" stroke-width="0.95"/>
<circle cx="349.25" cy="326.11" r="1.15" fill="none" stroke="#1d5192" stroke-width="0.95"/>
<circle cx="351.80" cy="326.00" r="1.15" fill="none" stroke="#1d5192" stroke-width="0.95"/>
<circle cx="349.78" cy="325.97" r="1.15" fill="none" stroke="#1d5192" stroke-width="0.95"/>
<circle cx="351.04" cy="325.93" r="1.15" fill="none" stroke="#1d5192" stroke-width="0.95"/>
<circle cx="349.85" cy="325.91" r="1.15" fill="none" stroke="#1d5192" stroke-width="0.95"/>
<circle cx="347.55" cy="325.29" r="1.15" fill="none" stroke="#1d5192" stroke-width="0.95"/>
<circle cx="349.25" cy="324.79" r="1.15" fill="none" stroke="#1d5192" stroke-width="0.95"/>
<circle cx="350.95" cy="324.65" r="1.15" fill="none" stroke="#1d5192" stroke-width="0.95"/>
<circle cx="352.65" cy="324.59" r="1.15" fill="none" stroke="#1d5192" stroke-width="0.95"/>
<circle cx="348.77" cy="324.57" r="1.15" fill="none" stroke="#1d5192" stroke-width="0.95"/>
<circle cx="350.56" cy="324.13" r="1.15" fill="none" stroke="#1d5192" stroke-width="0.95"/>
<circle cx="349.65" cy="324.12" r="1.15" fill="none" stroke="#1d5192" stroke-width="0.95"/>
<circle cx="351.80" cy="323.36" r="1.15" fill="none" stroke="#1d5192" stroke-width="0.95"/>
<circle cx="350.10" cy="322.13" r="1.15" fill="none" stroke="#1d5192" stroke-width="0.95"/>
<circle cx="350.10" cy="320.58" r="1.15" fill="none" stroke="#1d5192" stroke-width="0.95"/>
<circle cx="350.10" cy="317.39" r="1.15" fill="none" stroke="#1d5192" stroke-width="0.95"/>
<line x1="345.90" y1="327.87" x2="354.30" y2="327.87" stroke="#222" stroke-width="0.5"/>
<rect x="359.40" y="331.96" width="2.20" height="2.20" fill="none" stroke="#c8203a" stroke-width="0.95"/>
<rect x="361.10" y="331.41" width="2.20" height="2.20" fill="none" stroke="#c8203a" stroke-width="0.95"/>
<rect x="359.40" y="330.34" width="2.20" height="2.20" fill="none" stroke="#c8203a" stroke-width="0.95"/>
<rect x="361.10" y="329.94" width="2.20" height="2.20" fill="none" stroke="#c8203a" stroke-width="0.95"/>
<rect x="357.70" y="329.51" width="2.20" height="2.20" fill="none" stroke="#c8203a" stroke-width="0.95"/>
<rect x="359.40" y="328.58" width="2.20" height="2.20" fill="none" stroke="#c8203a" stroke-width="0.95"/>
<rect x="361.10" y="328.49" width="2.20" height="2.20" fill="none" stroke="#c8203a" stroke-width="0.95"/>
<rect x="356.85" y="328.27" width="2.20" height="2.20" fill="none" stroke="#c8203a" stroke-width="0.95"/>
<rect x="359.40" y="326.12" width="2.20" height="2.20" fill="none" stroke="#c8203a" stroke-width="0.95"/>
<rect x="361.10" y="325.96" width="2.20" height="2.20" fill="none" stroke="#c8203a" stroke-width="0.95"/>
<rect x="357.70" y="325.94" width="2.20" height="2.20" fill="none" stroke="#c8203a" stroke-width="0.95"/>
<rect x="360.96" y="325.93" width="2.20" height="2.20" fill="none" stroke="#c8203a" stroke-width="0.95"/>
<rect x="359.57" y="325.82" width="2.20" height="2.20" fill="none" stroke="#c8203a" stroke-width="0.95"/>
<rect x="362.19" y="325.65" width="2.20" height="2.20" fill="none" stroke="#c8203a" stroke-width="0.95"/>
<rect x="361.93" y="325.48" width="2.20" height="2.20" fill="none" stroke="#c8203a" stroke-width="0.95"/>
<rect x="360.25" y="324.63" width="2.20" height="2.20" fill="none" stroke="#c8203a" stroke-width="0.95"/>
<rect x="358.55" y="324.45" width="2.20" height="2.20" fill="none" stroke="#c8203a" stroke-width="0.95"/>
<rect x="356.85" y="324.23" width="2.20" height="2.20" fill="none" stroke="#c8203a" stroke-width="0.95"/>
<rect x="361.95" y="324.07" width="2.20" height="2.20" fill="none" stroke="#c8203a" stroke-width="0.95"/>
<rect x="360.71" y="323.92" width="2.20" height="2.20" fill="none" stroke="#c8203a" stroke-width="0.95"/>
<rect x="357.94" y="323.58" width="2.20" height="2.20" fill="none" stroke="#c8203a" stroke-width="0.95"/>
<rect x="359.40" y="323.26" width="2.20" height="2.20" fill="none" stroke="#c8203a" stroke-width="0.95"/>
<rect x="357.24" y="323.24" width="2.20" height="2.20" fill="none" stroke="#c8203a" stroke-width="0.95"/>
<rect x="361.60" y="323.22" width="2.20" height="2.20" fill="none" stroke="#c8203a" stroke-width="0.95"/>
<rect x="360.99" y="322.77" width="2.20" height="2.20" fill="none" stroke="#c8203a" stroke-width="0.95"/>
<rect x="360.10" y="322.33" width="2.20" height="2.20" fill="none" stroke="#c8203a" stroke-width="0.95"/>
<rect x="358.55" y="322.30" width="2.20" height="2.20" fill="none" stroke="#c8203a" stroke-width="0.95"/>
<rect x="361.95" y="321.95" width="2.20" height="2.20" fill="none" stroke="#c8203a" stroke-width="0.95"/>
<rect x="359.40" y="319.86" width="2.20" height="2.20" fill="none" stroke="#c8203a" stroke-width="0.95"/>
<rect x="361.10" y="319.26" width="2.20" height="2.20" fill="none" stroke="#c8203a" stroke-width="0.95"/>
<rect x="358.55" y="318.66" width="2.20" height="2.20" fill="none" stroke="#c8203a" stroke-width="0.95"/>
<rect x="356.85" y="318.65" width="2.20" height="2.20" fill="none" stroke="#c8203a" stroke-width="0.95"/>
<rect x="360.25" y="317.88" width="2.20" height="2.20" fill="none" stroke="#c8203a" stroke-width="0.95"/>
<rect x="361.95" y="317.81" width="2.20" height="2.20" fill="none" stroke="#c8203a" stroke-width="0.95"/>
<rect x="359.40" y="315.64" width="2.20" height="2.20" fill="none" stroke="#c8203a" stroke-width="0.95"/>
<rect x="361.10" y="315.34" width="2.20" height="2.20" fill="none" stroke="#c8203a" stroke-width="0.95"/>
<rect x="359.40" y="311.53" width="2.20" height="2.20" fill="none" stroke="#c8203a" stroke-width="0.95"/>
<line x1="356.30" y1="326.60" x2="364.70" y2="326.60" stroke="#222" stroke-width="0.5"/>
<line x1="384.90" y1="339.30" x2="384.90" y2="341.50" stroke="#231f20" stroke-width="0.8"/>
<text x="384.90" y="349.80" font-size="7.0" text-anchor="middle" font-style="italic" textLength="20.20" lengthAdjust="spacingAndGlyphs">Otud2</text>
<circle cx="379.90" cy="335.49" r="1.15" fill="none" stroke="#1d5192" stroke-width="0.95"/>
<circle cx="379.90" cy="329.14" r="1.15" fill="none" stroke="#1d5192" stroke-width="0.95"/>
<circle cx="379.90" cy="325.33" r="1.15" fill="none" stroke="#1d5192" stroke-width="0.95"/>
<circle cx="379.90" cy="322.79" r="1.15" fill="none" stroke="#1d5192" stroke-width="0.95"/>
<circle cx="379.90" cy="319.00" r="1.15" fill="none" stroke="#1d5192" stroke-width="0.95"/>
<circle cx="381.60" cy="318.83" r="1.15" fill="none" stroke="#1d5192" stroke-width="0.95"/>
<circle cx="379.90" cy="314.43" r="1.15" fill="none" stroke="#1d5192" stroke-width="0.95"/>
<circle cx="381.60" cy="313.95" r="1.15" fill="none" stroke="#1d5192" stroke-width="0.95"/>
<circle cx="378.20" cy="313.88" r="1.15" fill="none" stroke="#1d5192" stroke-width="0.95"/>
<circle cx="379.11" cy="313.76" r="1.15" fill="none" stroke="#1d5192" stroke-width="0.95"/>
<circle cx="378.62" cy="313.07" r="1.15" fill="none" stroke="#1d5192" stroke-width="0.95"/>
<circle cx="380.75" cy="312.80" r="1.15" fill="none" stroke="#1d5192" stroke-width="0.95"/>
<circle cx="382.45" cy="312.65" r="1.15" fill="none" stroke="#1d5192" stroke-width="0.95"/>
<circle cx="377.35" cy="312.23" r="1.15" fill="none" stroke="#1d5192" stroke-width="0.95"/>
<circle cx="379.90" cy="311.80" r="1.15" fill="none" stroke="#1d5192" stroke-width="0.95"/>
<circle cx="381.60" cy="311.47" r="1.15" fill="none" stroke="#1d5192" stroke-width="0.95"/>
<circle cx="378.20" cy="311.12" r="1.15" fill="none" stroke="#1d5192" stroke-width="0.95"/>
<circle cx="380.94" cy="310.69" r="1.15" fill="none" stroke="#1d5192" stroke-width="0.95"/>
<circle cx="380.26" cy="310.68" r="1.15" fill="none" stroke="#1d5192" stroke-width="0.95"/>
<circle cx="382.45" cy="310.45" r="1.15" fill="none" stroke="#1d5192" stroke-width="0.95"/>
<circle cx="379.05" cy="309.70" r="1.15" fill="none" stroke="#1d5192" stroke-width="0.95"/>
<circle cx="380.75" cy="309.45" r="1.15" fill="none" stroke="#1d5192" stroke-width="0.95"/>
<circle cx="377.35" cy="309.28" r="1.15" fill="none" stroke="#1d5192" stroke-width="0.95"/>
<circle cx="382.45" cy="308.81" r="1.15" fill="none" stroke="#1d5192" stroke-width="0.95"/>
<circle cx="379.90" cy="308.49" r="1.15" fill="none" stroke="#1d5192" stroke-width="0.95"/>
<circle cx="380.41" cy="308.36" r="1.15" fill="none" stroke="#1d5192" stroke-width="0.95"/>
<circle cx="378.20" cy="308.18" r="1.15" fill="none" stroke="#1d5192" stroke-width="0.95"/>
<circle cx="380.65" cy="308.16" r="1.15" fill="none" stroke="#1d5192" stroke-width="0.95"/>
<circle cx="381.32" cy="308.11" r="1.15" fill="none" stroke="#1d5192" stroke-width="0.95"/>
<circle cx="378.16" cy="307.58" r="1.15" fill="none" stroke="#1d5192" stroke-width="0.95"/>
<circle cx="382.45" cy="307.50" r="1.15" fill="none" stroke="#1d5192" stroke-width="0.95"/>
<circle cx="379.90" cy="307.13" r="1.15" fill="none" stroke="#1d5192" stroke-width="0.95"/>
<circle cx="378.49" cy="306.73" r="1.15" fill="none" stroke="#1d5192" stroke-width="0.95"/>
<circle cx="381.60" cy="306.42" r="1.15" fill="none" stroke="#1d5192" stroke-width="0.95"/>
<circle cx="379.90" cy="305.87" r="1.15" fill="none" stroke="#1d5192" stroke-width="0.95"/>
<circle cx="377.35" cy="305.54" r="1.15" fill="none" stroke="#1d5192" stroke-width="0.95"/>
<circle cx="382.45" cy="305.37" r="1.15" fill="none" stroke="#1d5192" stroke-width="0.95"/>
<circle cx="382.59" cy="305.19" r="1.15" fill="none" stroke="#1d5192" stroke-width="0.95"/>
<circle cx="382.23" cy="305.17" r="1.15" fill="none" stroke="#1d5192" stroke-width="0.95"/>
<circle cx="380.75" cy="304.86" r="1.15" fill="none" stroke="#1d5192" stroke-width="0.95"/>
<circle cx="379.05" cy="304.79" r="1.15" fill="none" stroke="#1d5192" stroke-width="0.95"/>
<circle cx="382.02" cy="304.62" r="1.15" fill="none" stroke="#1d5192" stroke-width="0.95"/>
<circle cx="377.32" cy="304.42" r="1.15" fill="none" stroke="#1d5192" stroke-width="0.95"/>
<circle cx="377.44" cy="304.39" r="1.15" fill="none" stroke="#1d5192" stroke-width="0.95"/>
<circle cx="378.62" cy="304.31" r="1.15" fill="none" stroke="#1d5192" stroke-width="0.95"/>
<circle cx="379.48" cy="304.02" r="1.15" fill="none" stroke="#1d5192" stroke-width="0.95"/>
<circle cx="380.75" cy="303.21" r="1.15" fill="none" stroke="#1d5192" stroke-width="0.95"/>
<circle cx="379.05" cy="302.61" r="1.15" fill="none" stroke="#1d5192" stroke-width="0.95"/>
<circle cx="382.45" cy="302.58" r="1.15" fill="none" stroke="#1d5192" stroke-width="0.95"/>
<circle cx="379.90" cy="301.25" r="1.15" fill="none" stroke="#1d5192" stroke-width="0.95"/>
<circle cx="379.90" cy="294.90" r="1.15" fill="none" stroke="#1d5192" stroke-width="0.95"/>
<circle cx="381.60" cy="294.58" r="1.15" fill="none" stroke="#1d5192" stroke-width="0.95"/>
<circle cx="378.20" cy="294.26" r="1.15" fill="none" stroke="#1d5192" stroke-width="0.95"/>
<circle cx="380.59" cy="293.95" r="1.15" fill="none" stroke="#1d5192" stroke-width="0.95"/>
<circle cx="382.45" cy="293.63" r="1.15" fill="none" stroke="#1d5192" stroke-width="0.95"/>
<circle cx="379.05" cy="293.00" r="1.15" fill="none" stroke="#1d5192" stroke-width="0.95"/>
<circle cx="379.90" cy="291.72" r="1.15" fill="none" stroke="#1d5192" stroke-width="0.95"/>
<circle cx="379.90" cy="289.82" r="1.15" fill="none" stroke="#1d5192" stroke-width="0.95"/>
<circle cx="379.90" cy="287.28" r="1.15" fill="none" stroke="#1d5192" stroke-width="0.95"/>
<circle cx="379.90" cy="285.38" r="1.15" fill="none" stroke="#1d5192" stroke-width="0.95"/>
<circle cx="379.90" cy="283.47" r="1.15" fill="none" stroke="#1d5192" stroke-width="0.95"/>
<circle cx="379.90" cy="281.56" r="1.15" fill="none" stroke="#1d5192" stroke-width="0.95"/>
<circle cx="379.90" cy="280.29" r="1.15" fill="none" stroke="#1d5192" stroke-width="0.95"/>
<line x1="375.70" y1="308.82" x2="384.10" y2="308.82" stroke="#222" stroke-width="0.5"/>
<rect x="389.20" y="330.58" width="2.20" height="2.20" fill="none" stroke="#c8203a" stroke-width="0.95"/>
<rect x="389.20" y="325.50" width="2.20" height="2.20" fill="none" stroke="#c8203a" stroke-width="0.95"/>
<rect x="389.20" y="322.96" width="2.20" height="2.20" fill="none" stroke="#c8203a" stroke-width="0.95"/>
<rect x="389.20" y="320.20" width="2.20" height="2.20" fill="none" stroke="#c8203a" stroke-width="0.95"/>
<rect x="390.05" y="318.96" width="2.20" height="2.20" fill="none" stroke="#c8203a" stroke-width="0.95"/>
<rect x="388.35" y="318.95" width="2.20" height="2.20" fill="none" stroke="#c8203a" stroke-width="0.95"/>
<rect x="389.20" y="316.80" width="2.20" height="2.20" fill="none" stroke="#c8203a" stroke-width="0.95"/>
<rect x="390.90" y="316.80" width="2.20" height="2.20" fill="none" stroke="#c8203a" stroke-width="0.95"/>
<rect x="387.50" y="316.58" width="2.20" height="2.20" fill="none" stroke="#c8203a" stroke-width="0.95"/>
<rect x="390.05" y="315.80" width="2.20" height="2.20" fill="none" stroke="#c8203a" stroke-width="0.95"/>
<rect x="388.35" y="315.28" width="2.20" height="2.20" fill="none" stroke="#c8203a" stroke-width="0.95"/>
<rect x="389.20" y="313.95" width="2.20" height="2.20" fill="none" stroke="#c8203a" stroke-width="0.95"/>
<rect x="390.90" y="313.42" width="2.20" height="2.20" fill="none" stroke="#c8203a" stroke-width="0.95"/>
<rect x="389.20" y="312.20" width="2.20" height="2.20" fill="none" stroke="#c8203a" stroke-width="0.95"/>
<rect x="387.50" y="312.20" width="2.20" height="2.20" fill="none" stroke="#c8203a" stroke-width="0.95"/>
<rect x="390.05" y="311.21" width="2.20" height="2.20" fill="none" stroke="#c8203a" stroke-width="0.95"/>
<rect x="388.35" y="310.99" width="2.20" height="2.20" fill="none" stroke="#c8203a" stroke-width="0.95"/>
<rect x="391.75" y="310.97" width="2.20" height="2.20" fill="none" stroke="#c8203a" stroke-width="0.95"/>
<rect x="386.65" y="310.77" width="2.20" height="2.20" fill="none" stroke="#c8203a" stroke-width="0.95"/>
<rect x="389.20" y="309.57" width="2.20" height="2.20" fill="none" stroke="#c8203a" stroke-width="0.95"/>
<rect x="390.90" y="309.53" width="2.20" height="2.20" fill="none" stroke="#c8203a" stroke-width="0.95"/>
<rect x="387.50" y="309.49" width="2.20" height="2.20" fill="none" stroke="#c8203a" stroke-width="0.95"/>
<rect x="386.97" y="309.42" width="2.20" height="2.20" fill="none" stroke="#c8203a" stroke-width="0.95"/>
<rect x="389.43" y="309.26" width="2.20" height="2.20" fill="none" stroke="#c8203a" stroke-width="0.95"/>
<rect x="389.20" y="307.93" width="2.20" height="2.20" fill="none" stroke="#c8203a" stroke-width="0.95"/>
<rect x="390.90" y="307.84" width="2.20" height="2.20" fill="none" stroke="#c8203a" stroke-width="0.95"/>
<rect x="389.20" y="305.71" width="2.20" height="2.20" fill="none" stroke="#c8203a" stroke-width="0.95"/>
<rect x="390.05" y="304.53" width="2.20" height="2.20" fill="none" stroke="#c8203a" stroke-width="0.95"/>
<rect x="388.35" y="304.36" width="2.20" height="2.20" fill="none" stroke="#c8203a" stroke-width="0.95"/>
<rect x="391.75" y="303.74" width="2.20" height="2.20" fill="none" stroke="#c8203a" stroke-width="0.95"/>
<rect x="389.20" y="301.39" width="2.20" height="2.20" fill="none" stroke="#c8203a" stroke-width="0.95"/>
<rect x="389.20" y="290.62" width="2.20" height="2.20" fill="none" stroke="#c8203a" stroke-width="0.95"/>
<rect x="389.20" y="287.45" width="2.20" height="2.20" fill="none" stroke="#c8203a" stroke-width="0.95"/>
<rect x="389.20" y="285.54" width="2.20" height="2.20" fill="none" stroke="#c8203a" stroke-width="0.95"/>
<rect x="389.20" y="284.27" width="2.20" height="2.20" fill="none" stroke="#c8203a" stroke-width="0.95"/>
<rect x="390.90" y="283.64" width="2.20" height="2.20" fill="none" stroke="#c8203a" stroke-width="0.95"/>
<rect x="389.20" y="281.10" width="2.20" height="2.20" fill="none" stroke="#c8203a" stroke-width="0.95"/>
<line x1="386.10" y1="311.36" x2="394.50" y2="311.36" stroke="#222" stroke-width="0.5"/>
<line x1="414.70" y1="339.30" x2="414.70" y2="341.50" stroke="#231f20" stroke-width="0.8"/>
<text x="414.70" y="349.80" font-size="7.0" text-anchor="middle" font-style="italic" textLength="20.20" lengthAdjust="spacingAndGlyphs">Otud4</text>
<circle cx="409.70" cy="331.68" r="1.15" fill="none" stroke="#1d5192" stroke-width="0.95"/>
<circle cx="409.70" cy="320.25" r="1.15" fill="none" stroke="#1d5192" stroke-width="0.95"/>
<circle cx="409.70" cy="315.17" r="1.15" fill="none" stroke="#1d5192" stroke-width="0.95"/>
<circle cx="409.70" cy="311.36" r="1.15" fill="none" stroke="#1d5192" stroke-width="0.95"/>
<circle cx="409.70" cy="308.82" r="1.15" fill="none" stroke="#1d5192" stroke-width="0.95"/>
<circle cx="409.70" cy="307.55" r="1.15" fill="none" stroke="#1d5192" stroke-width="0.95"/>
<circle cx="409.70" cy="305.01" r="1.15" fill="none" stroke="#1d5192" stroke-width="0.95"/>
<circle cx="409.70" cy="303.74" r="1.15" fill="none" stroke="#1d5192" stroke-width="0.95"/>
<circle cx="409.70" cy="302.47" r="1.15" fill="none" stroke="#1d5192" stroke-width="0.95"/>
<circle cx="409.70" cy="295.48" r="1.15" fill="none" stroke="#1d5192" stroke-width="0.95"/>
<circle cx="411.40" cy="295.11" r="1.15" fill="none" stroke="#1d5192" stroke-width="0.95"/>
<circle cx="408.00" cy="294.95" r="1.15" fill="none" stroke="#1d5192" stroke-width="0.95"/>
<circle cx="407.31" cy="294.65" r="1.15" fill="none" stroke="#1d5192" stroke-width="0.95"/>
<circle cx="407.38" cy="294.55" r="1.15" fill="none" stroke="#1d5192" stroke-width="0.95"/>
<circle cx="410.69" cy="294.23" r="1.15" fill="none" stroke="#1d5192" stroke-width="0.95"/>
<circle cx="408.85" cy="293.99" r="1.15" fill="none" stroke="#1d5192" stroke-width="0.95"/>
<circle cx="412.25" cy="293.98" r="1.15" fill="none" stroke="#1d5192" stroke-width="0.95"/>
<circle cx="409.98" cy="293.84" r="1.15" fill="none" stroke="#1d5192" stroke-width="0.95"/>
<circle cx="410.43" cy="293.60" r="1.15" fill="none" stroke="#1d5192" stroke-width="0.95"/>
<circle cx="408.99" cy="293.60" r="1.15" fill="none" stroke="#1d5192" stroke-width="0.95"/>
<circle cx="407.15" cy="293.29" r="1.15" fill="none" stroke="#1d5192" stroke-width="0.95"/>
<circle cx="409.58" cy="293.09" r="1.15" fill="none" stroke="#1d5192" stroke-width="0.95"/>
<circle cx="408.08" cy="293.05" r="1.15" fill="none" stroke="#1d5192" stroke-width="0.95"/>
<circle cx="408.82" cy="293.05" r="1.15" fill="none" stroke="#1d5192" stroke-width="0.95"/>
<circle cx="411.07" cy="293.02" r="1.15" fill="none" stroke="#1d5192" stroke-width="0.95"/>
<circle cx="411.60" cy="292.63" r="1.15" fill="none" stroke="#1d5192" stroke-width="0.95"/>
<circle cx="407.32" cy="292.44" r="1.15" fill="none" stroke="#1d5192" stroke-width="0.95"/>
<circle cx="407.57" cy="291.98" r="1.15" fill="none" stroke="#1d5192" stroke-width="0.95"/>
<circle cx="411.43" cy="291.96" r="1.15" fill="none" stroke="#1d5192" stroke-width="0.95"/>
<circle cx="410.39" cy="291.89" r="1.15" fill="none" stroke="#1d5192" stroke-width="0.95"/>
<circle cx="408.85" cy="291.74" r="1.15" fill="none" stroke="#1d5192" stroke-width="0.95"/>
<circle cx="411.21" cy="291.56" r="1.15" fill="none" stroke="#1d5192" stroke-width="0.95"/>
<circle cx="408.09" cy="291.44" r="1.15" fill="none" stroke="#1d5192" stroke-width="0.95"/>
<circle cx="409.28" cy="291.38" r="1.15" fill="none" stroke="#1d5192" stroke-width="0.95"/>
<circle cx="408.35" cy="291.24" r="1.15" fill="none" stroke="#1d5192" stroke-width="0.95"/>
<circle cx="412.25" cy="290.61" r="1.15" fill="none" stroke="#1d5192" stroke-width="0.95"/>
<circle cx="410.55" cy="290.41" r="1.15" fill="none" stroke="#1d5192" stroke-width="0.95"/>
<circle cx="407.15" cy="290.40" r="1.15" fill="none" stroke="#1d5192" stroke-width="0.95"/>
<circle cx="411.44" cy="290.13" r="1.15" fill="none" stroke="#1d5192" stroke-width="0.95"/>
<circle cx="408.97" cy="290.10" r="1.15" fill="none" stroke="#1d5192" stroke-width="0.95"/>
<circle cx="410.56" cy="290.05" r="1.15" fill="none" stroke="#1d5192" stroke-width="0.95"/>
<circle cx="412.44" cy="289.40" r="1.15" fill="none" stroke="#1d5192" stroke-width="0.95"/>
<circle cx="408.72" cy="289.40" r="1.15" fill="none" stroke="#1d5192" stroke-width="0.95"/>
<circle cx="409.97" cy="289.34" r="1.15" fill="none" stroke="#1d5192" stroke-width="0.95"/>
<circle cx="411.08" cy="289.19" r="1.15" fill="none" stroke="#1d5192" stroke-width="0.95"/>
<circle cx="407.15" cy="289.00" r="1.15" fill="none" stroke="#1d5192" stroke-width="0.95"/>
<circle cx="412.06" cy="288.98" r="1.15" fill="none" stroke="#1d5192" stroke-width="0.95"/>
<circle cx="409.29" cy="288.59" r="1.15" fill="none" stroke="#1d5192" stroke-width="0.95"/>
<circle cx="410.55" cy="287.81" r="1.15" fill="none" stroke="#1d5192" stroke-width="0.95"/>
<circle cx="409.70" cy="286.64" r="1.15" fill="none" stroke="#1d5192" stroke-width="0.95"/>
<circle cx="409.70" cy="284.74" r="1.15" fill="none" stroke="#1d5192" stroke-width="0.95"/>
<circle cx="409.70" cy="282.83" r="1.15" fill="none" stroke="#1d5192" stroke-width="0.95"/>
<circle cx="409.70" cy="281.56" r="1.15" fill="none" stroke="#1d5192" stroke-width="0.95"/>
<line x1="405.50" y1="291.09" x2="413.90" y2="291.09" stroke="#222" stroke-width="0.5"/>
<rect x="419.00" y="328.04" width="2.20" height="2.20" fill="none" stroke="#c8203a" stroke-width="0.95"/>
<rect x="419.00" y="317.88" width="2.20" height="2.20" fill="none" stroke="#c8203a" stroke-width="0.95"/>
<rect x="419.00" y="312.80" width="2.20" height="2.20" fill="none" stroke="#c8203a" stroke-width="0.95"/>
<rect x="419.00" y="310.26" width="2.20" height="2.20" fill="none" stroke="#c8203a" stroke-width="0.95"/>
<rect x="419.00" y="307.72" width="2.20" height="2.20" fill="none" stroke="#c8203a" stroke-width="0.95"/>
<rect x="419.00" y="305.18" width="2.20" height="2.20" fill="none" stroke="#c8203a" stroke-width="0.95"/>
<rect x="419.00" y="302.64" width="2.20" height="2.20" fill="none" stroke="#c8203a" stroke-width="0.95"/>
<rect x="419.00" y="301.37" width="2.20" height="2.20" fill="none" stroke="#c8203a" stroke-width="0.95"/>
<rect x="419.00" y="294.91" width="2.20" height="2.20" fill="none" stroke="#c8203a" stroke-width="0.95"/>
<rect x="420.70" y="294.10" width="2.20" height="2.20" fill="none" stroke="#c8203a" stroke-width="0.95"/>
<rect x="419.00" y="292.52" width="2.20" height="2.20" fill="none" stroke="#c8203a" stroke-width="0.95"/>
<rect x="420.70" y="292.51" width="2.20" height="2.20" fill="none" stroke="#c8203a" stroke-width="0.95"/>
<rect x="417.30" y="292.40" width="2.20" height="2.20" fill="none" stroke="#c8203a" stroke-width="0.95"/>
<rect x="418.27" y="292.40" width="2.20" height="2.20" fill="none" stroke="#c8203a" stroke-width="0.95"/>
<rect x="416.74" y="292.38" width="2.20" height="2.20" fill="none" stroke="#c8203a" stroke-width="0.95"/>
<rect x="421.10" y="292.25" width="2.20" height="2.20" fill="none" stroke="#c8203a" stroke-width="0.95"/>
<rect x="416.64" y="292.22" width="2.20" height="2.20" fill="none" stroke="#c8203a" stroke-width="0.95"/>
<rect x="416.66" y="292.07" width="2.20" height="2.20" fill="none" stroke="#c8203a" stroke-width="0.95"/>
<rect x="419.36" y="291.77" width="2.20" height="2.20" fill="none" stroke="#c8203a" stroke-width="0.95"/>
<rect x="418.15" y="291.14" width="2.20" height="2.20" fill="none" stroke="#c8203a" stroke-width="0.95"/>
<rect x="419.85" y="290.50" width="2.20" height="2.20" fill="none" stroke="#c8203a" stroke-width="0.95"/>
<rect x="421.55" y="290.48" width="2.20" height="2.20" fill="none" stroke="#c8203a" stroke-width="0.95"/>
<rect x="416.45" y="290.30" width="2.20" height="2.20" fill="none" stroke="#c8203a" stroke-width="0.95"/>
<rect x="418.15" y="289.80" width="2.20" height="2.20" fill="none" stroke="#c8203a" stroke-width="0.95"/>
<rect x="418.92" y="289.57" width="2.20" height="2.20" fill="none" stroke="#c8203a" stroke-width="0.95"/>
<rect x="420.70" y="289.51" width="2.20" height="2.20" fill="none" stroke="#c8203a" stroke-width="0.95"/>
<rect x="420.04" y="289.49" width="2.20" height="2.20" fill="none" stroke="#c8203a" stroke-width="0.95"/>
<rect x="417.87" y="289.48" width="2.20" height="2.20" fill="none" stroke="#c8203a" stroke-width="0.95"/>
<rect x="420.54" y="289.26" width="2.20" height="2.20" fill="none" stroke="#c8203a" stroke-width="0.95"/>
<rect x="416.45" y="289.02" width="2.20" height="2.20" fill="none" stroke="#c8203a" stroke-width="0.95"/>
<rect x="416.63" y="289.02" width="2.20" height="2.20" fill="none" stroke="#c8203a" stroke-width="0.95"/>
<rect x="417.39" y="289.02" width="2.20" height="2.20" fill="none" stroke="#c8203a" stroke-width="0.95"/>
<rect x="421.55" y="288.45" width="2.20" height="2.20" fill="none" stroke="#c8203a" stroke-width="0.95"/>
<rect x="419.00" y="287.60" width="2.20" height="2.20" fill="none" stroke="#c8203a" stroke-width="0.95"/>
<rect x="419.00" y="284.27" width="2.20" height="2.20" fill="none" stroke="#c8203a" stroke-width="0.95"/>
<line x1="415.90" y1="292.04" x2="424.30" y2="292.04" stroke="#222" stroke-width="0.5"/>
<line x1="444.50" y1="339.30" x2="444.50" y2="341.50" stroke="#231f20" stroke-width="0.8"/>
<text x="444.50" y="349.80" font-size="7.0" text-anchor="middle" font-style="italic" textLength="20.20" lengthAdjust="spacingAndGlyphs">Otud5</text>
<circle cx="439.50" cy="336.25" r="1.15" fill="none" stroke="#1d5192" stroke-width="0.95"/>
<circle cx="439.50" cy="325.07" r="1.15" fill="none" stroke="#1d5192" stroke-width="0.95"/>
<circle cx="439.50" cy="323.35" r="1.15" fill="none" stroke="#1d5192" stroke-width="0.95"/>
<circle cx="441.20" cy="322.78" r="1.15" fill="none" stroke="#1d5192" stroke-width="0.95"/>
<circle cx="439.50" cy="320.91" r="1.15" fill="none" stroke="#1d5192" stroke-width="0.95"/>
<circle cx="441.20" cy="320.56" r="1.15" fill="none" stroke="#1d5192" stroke-width="0.95"/>
<circle cx="439.50" cy="319.64" r="1.15" fill="none" stroke="#1d5192" stroke-width="0.95"/>
<circle cx="437.80" cy="319.61" r="1.15" fill="none" stroke="#1d5192" stroke-width="0.95"/>
<circle cx="442.05" cy="319.41" r="1.15" fill="none" stroke="#1d5192" stroke-width="0.95"/>
<circle cx="440.41" cy="319.34" r="1.15" fill="none" stroke="#1d5192" stroke-width="0.95"/>
<circle cx="437.16" cy="319.33" r="1.15" fill="none" stroke="#1d5192" stroke-width="0.95"/>
<circle cx="439.50" cy="316.87" r="1.15" fill="none" stroke="#1d5192" stroke-width="0.95"/>
<circle cx="441.20" cy="316.27" r="1.15" fill="none" stroke="#1d5192" stroke-width="0.95"/>
<circle cx="438.65" cy="315.81" r="1.15" fill="none" stroke="#1d5192" stroke-width="0.95"/>
<circle cx="436.95" cy="315.75" r="1.15" fill="none" stroke="#1d5192" stroke-width="0.95"/>
<circle cx="440.35" cy="315.15" r="1.15" fill="none" stroke="#1d5192" stroke-width="0.95"/>
<circle cx="442.05" cy="315.00" r="1.15" fill="none" stroke="#1d5192" stroke-width="0.95"/>
<circle cx="439.50" cy="313.34" r="1.15" fill="none" stroke="#1d5192" stroke-width="0.95"/>
<circle cx="441.20" cy="313.32" r="1.15" fill="none" stroke="#1d5192" stroke-width="0.95"/>
<circle cx="437.80" cy="313.22" r="1.15" fill="none" stroke="#1d5192" stroke-width="0.95"/>
<circle cx="438.40" cy="313.03" r="1.15" fill="none" stroke="#1d5192" stroke-width="0.95"/>
<circle cx="440.76" cy="312.88" r="1.15" fill="none" stroke="#1d5192" stroke-width="0.95"/>
<circle cx="442.05" cy="312.15" r="1.15" fill="none" stroke="#1d5192" stroke-width="0.95"/>
<circle cx="436.95" cy="312.10" r="1.15" fill="none" stroke="#1d5192" stroke-width="0.95"/>
<circle cx="439.50" cy="311.89" r="1.15" fill="none" stroke="#1d5192" stroke-width="0.95"/>
<circle cx="440.59" cy="311.77" r="1.15" fill="none" stroke="#1d5192" stroke-width="0.95"/>
<circle cx="438.65" cy="310.76" r="1.15" fill="none" stroke="#1d5192" stroke-width="0.95"/>
<circle cx="439.50" cy="309.13" r="1.15" fill="none" stroke="#1d5192" stroke-width="0.95"/>
<circle cx="439.50" cy="305.99" r="1.15" fill="none" stroke="#1d5192" stroke-width="0.95"/>
<circle cx="439.50" cy="304.20" r="1.15" fill="none" stroke="#1d5192" stroke-width="0.95"/>
<circle cx="441.20" cy="303.87" r="1.15" fill="none" stroke="#1d5192" stroke-width="0.95"/>
<circle cx="439.50" cy="295.77" r="1.15" fill="none" stroke="#1d5192" stroke-width="0.95"/>
<circle cx="441.20" cy="295.19" r="1.15" fill="none" stroke="#1d5192" stroke-width="0.95"/>
<circle cx="437.80" cy="295.16" r="1.15" fill="none" stroke="#1d5192" stroke-width="0.95"/>
<circle cx="438.28" cy="294.81" r="1.15" fill="none" stroke="#1d5192" stroke-width="0.95"/>
<circle cx="437.50" cy="294.53" r="1.15" fill="none" stroke="#1d5192" stroke-width="0.95"/>
<circle cx="439.50" cy="294.45" r="1.15" fill="none" stroke="#1d5192" stroke-width="0.95"/>
<circle cx="438.70" cy="294.27" r="1.15" fill="none" stroke="#1d5192" stroke-width="0.95"/>
<circle cx="442.05" cy="294.18" r="1.15" fill="none" stroke="#1d5192" stroke-width="0.95"/>
<circle cx="440.77" cy="293.79" r="1.15" fill="none" stroke="#1d5192" stroke-width="0.95"/>
<circle cx="439.50" cy="293.19" r="1.15" fill="none" stroke="#1d5192" stroke-width="0.95"/>
<circle cx="437.80" cy="292.95" r="1.15" fill="none" stroke="#1d5192" stroke-width="0.95"/>
<circle cx="441.20" cy="292.60" r="1.15" fill="none" stroke="#1d5192" stroke-width="0.95"/>
<circle cx="438.75" cy="292.60" r="1.15" fill="none" stroke="#1d5192" stroke-width="0.95"/>
<circle cx="437.36" cy="292.58" r="1.15" fill="none" stroke="#1d5192" stroke-width="0.95"/>
<circle cx="440.67" cy="292.45" r="1.15" fill="none" stroke="#1d5192" stroke-width="0.95"/>
<circle cx="439.89" cy="292.25" r="1.15" fill="none" stroke="#1d5192" stroke-width="0.95"/>
<circle cx="441.84" cy="292.01" r="1.15" fill="none" stroke="#1d5192" stroke-width="0.95"/>
<circle cx="439.50" cy="290.94" r="1.15" fill="none" stroke="#1d5192" stroke-width="0.95"/>
<circle cx="441.20" cy="290.05" r="1.15" fill="none" stroke="#1d5192" stroke-width="0.95"/>
<circle cx="438.65" cy="289.94" r="1.15" fill="none" stroke="#1d5192" stroke-width="0.95"/>
<circle cx="436.95" cy="289.71" r="1.15" fill="none" stroke="#1d5192" stroke-width="0.95"/>
<circle cx="441.96" cy="289.70" r="1.15" fill="none" stroke="#1d5192" stroke-width="0.95"/>
<circle cx="441.81" cy="289.39" r="1.15" fill="none" stroke="#1d5192" stroke-width="0.95"/>
<circle cx="439.15" cy="289.28" r="1.15" fill="none" stroke="#1d5192" stroke-width="0.95"/>
<circle cx="440.35" cy="288.84" r="1.15" fill="none" stroke="#1d5192" stroke-width="0.95"/>
<circle cx="437.80" cy="288.48" r="1.15" fill="none" stroke="#1d5192" stroke-width="0.95"/>
<circle cx="439.50" cy="286.64" r="1.15" fill="none" stroke="#1d5192" stroke-width="0.95"/>
<circle cx="439.50" cy="284.74" r="1.15" fill="none" stroke="#1d5192" stroke-width="0.95"/>
<circle cx="439.50" cy="282.83" r="1.15" fill="none" stroke="#1d5192" stroke-width="0.95"/>
<circle cx="439.50" cy="280.93" r="1.15" fill="none" stroke="#1d5192" stroke-width="0.95"/>
<circle cx="439.50" cy="279.02" r="1.15" fill="none" stroke="#1d5192" stroke-width="0.95"/>
<circle cx="439.50" cy="277.12" r="1.15" fill="none" stroke="#1d5192" stroke-width="0.95"/>
<circle cx="439.50" cy="274.58" r="1.15" fill="none" stroke="#1d5192" stroke-width="0.95"/>
<circle cx="439.50" cy="272.67" r="1.15" fill="none" stroke="#1d5192" stroke-width="0.95"/>
<circle cx="439.50" cy="270.77" r="1.15" fill="none" stroke="#1d5192" stroke-width="0.95"/>
<line x1="435.30" y1="294.26" x2="443.70" y2="294.26" stroke="#222" stroke-width="0.5"/>
<rect x="448.80" y="328.80" width="2.20" height="2.20" fill="none" stroke="#c8203a" stroke-width="0.95"/>
<rect x="448.80" y="325.18" width="2.20" height="2.20" fill="none" stroke="#c8203a" stroke-width="0.95"/>
<rect x="448.80" y="322.22" width="2.20" height="2.20" fill="none" stroke="#c8203a" stroke-width="0.95"/>
<rect x="448.80" y="320.43" width="2.20" height="2.20" fill="none" stroke="#c8203a" stroke-width="0.95"/>
<rect x="450.50" y="319.96" width="2.20" height="2.20" fill="none" stroke="#c8203a" stroke-width="0.95"/>
<rect x="447.10" y="319.63" width="2.20" height="2.20" fill="none" stroke="#c8203a" stroke-width="0.95"/>
<rect x="448.80" y="318.35" width="2.20" height="2.20" fill="none" stroke="#c8203a" stroke-width="0.95"/>
<rect x="449.65" y="317.27" width="2.20" height="2.20" fill="none" stroke="#c8203a" stroke-width="0.95"/>
<rect x="447.95" y="316.85" width="2.20" height="2.20" fill="none" stroke="#c8203a" stroke-width="0.95"/>
<rect x="448.80" y="315.90" width="2.20" height="2.20" fill="none" stroke="#c8203a" stroke-width="0.95"/>
<rect x="450.50" y="315.38" width="2.20" height="2.20" fill="none" stroke="#c8203a" stroke-width="0.95"/>
<rect x="447.10" y="315.36" width="2.20" height="2.20" fill="none" stroke="#c8203a" stroke-width="0.95"/>
<rect x="448.80" y="314.62" width="2.20" height="2.20" fill="none" stroke="#c8203a" stroke-width="0.95"/>
<rect x="448.80" y="312.66" width="2.20" height="2.20" fill="none" stroke="#c8203a" stroke-width="0.95"/>
<rect x="450.50" y="311.79" width="2.20" height="2.20" fill="none" stroke="#c8203a" stroke-width="0.95"/>
<rect x="448.80" y="311.35" width="2.20" height="2.20" fill="none" stroke="#c8203a" stroke-width="0.95"/>
<rect x="448.80" y="310.05" width="2.20" height="2.20" fill="none" stroke="#c8203a" stroke-width="0.95"/>
<rect x="450.50" y="309.46" width="2.20" height="2.20" fill="none" stroke="#c8203a" stroke-width="0.95"/>
<rect x="447.95" y="309.06" width="2.20" height="2.20" fill="none" stroke="#c8203a" stroke-width="0.95"/>
<rect x="446.25" y="308.72" width="2.20" height="2.20" fill="none" stroke="#c8203a" stroke-width="0.95"/>
<rect x="449.65" y="308.45" width="2.20" height="2.20" fill="none" stroke="#c8203a" stroke-width="0.95"/>
<rect x="448.80" y="305.67" width="2.20" height="2.20" fill="none" stroke="#c8203a" stroke-width="0.95"/>
<rect x="448.80" y="301.25" width="2.20" height="2.20" fill="none" stroke="#c8203a" stroke-width="0.95"/>
<rect x="448.80" y="294.32" width="2.20" height="2.20" fill="none" stroke="#c8203a" stroke-width="0.95"/>
<rect x="450.50" y="293.98" width="2.20" height="2.20" fill="none" stroke="#c8203a" stroke-width="0.95"/>
<rect x="447.10" y="293.40" width="2.20" height="2.20" fill="none" stroke="#c8203a" stroke-width="0.95"/>
<rect x="448.80" y="292.97" width="2.20" height="2.20" fill="none" stroke="#c8203a" stroke-width="0.95"/>
<rect x="450.50" y="292.72" width="2.20" height="2.20" fill="none" stroke="#c8203a" stroke-width="0.95"/>
<rect x="446.25" y="292.43" width="2.20" height="2.20" fill="none" stroke="#c8203a" stroke-width="0.95"/>
<rect x="448.80" y="291.71" width="2.20" height="2.20" fill="none" stroke="#c8203a" stroke-width="0.95"/>
<rect x="451.35" y="291.68" width="2.20" height="2.20" fill="none" stroke="#c8203a" stroke-width="0.95"/>
<rect x="450.50" y="291.65" width="2.20" height="2.20" fill="none" stroke="#c8203a" stroke-width="0.95"/>
<rect x="447.10" y="291.26" width="2.20" height="2.20" fill="none" stroke="#c8203a" stroke-width="0.95"/>
<rect x="447.71" y="291.20" width="2.20" height="2.20" fill="none" stroke="#c8203a" stroke-width="0.95"/>
<rect x="449.65" y="290.53" width="2.20" height="2.20" fill="none" stroke="#c8203a" stroke-width="0.95"/>
<rect x="451.35" y="290.18" width="2.20" height="2.20" fill="none" stroke="#c8203a" stroke-width="0.95"/>
<rect x="448.80" y="289.59" width="2.20" height="2.20" fill="none" stroke="#c8203a" stroke-width="0.95"/>
<rect x="447.10" y="289.38" width="2.20" height="2.20" fill="none" stroke="#c8203a" stroke-width="0.95"/>
<rect x="450.50" y="289.21" width="2.20" height="2.20" fill="none" stroke="#c8203a" stroke-width="0.95"/>
<rect x="447.78" y="288.85" width="2.20" height="2.20" fill="none" stroke="#c8203a" stroke-width="0.95"/>
<rect x="448.24" y="288.65" width="2.20" height="2.20" fill="none" stroke="#c8203a" stroke-width="0.95"/>
<rect x="451.23" y="288.64" width="2.20" height="2.20" fill="none" stroke="#c8203a" stroke-width="0.95"/>
<rect x="449.65" y="287.96" width="2.20" height="2.20" fill="none" stroke="#c8203a" stroke-width="0.95"/>
<rect x="448.80" y="279.83" width="2.20" height="2.20" fill="none" stroke="#c8203a" stroke-width="0.95"/>
<rect x="448.80" y="271.89" width="2.20" height="2.20" fill="none" stroke="#c8203a" stroke-width="0.95"/>
<line x1="445.70" y1="291.72" x2="454.10" y2="291.72" stroke="#222" stroke-width="0.5"/>
<line x1="474.30" y1="339.30" x2="474.30" y2="341.50" stroke="#231f20" stroke-width="0.8"/>
<text x="474.30" y="349.80" font-size="7.0" text-anchor="middle" font-style="italic" textLength="23.50" lengthAdjust="spacingAndGlyphs">Otud6b</text>
<circle cx="469.30" cy="338.03" r="1.15" fill="none" stroke="#1d5192" stroke-width="0.95"/>
<circle cx="469.30" cy="334.22" r="1.15" fill="none" stroke="#1d5192" stroke-width="0.95"/>
<circle cx="469.30" cy="330.41" r="1.15" fill="none" stroke="#1d5192" stroke-width="0.95"/>
<circle cx="469.30" cy="322.55" r="1.15" fill="none" stroke="#1d5192" stroke-width="0.95"/>
<circle cx="469.30" cy="318.66" r="1.15" fill="none" stroke="#1d5192" stroke-width="0.95"/>
<circle cx="469.30" cy="316.33" r="1.15" fill="none" stroke="#1d5192" stroke-width="0.95"/>
<circle cx="471.00" cy="315.98" r="1.15" fill="none" stroke="#1d5192" stroke-width="0.95"/>
<circle cx="467.60" cy="315.72" r="1.15" fill="none" stroke="#1d5192" stroke-width="0.95"/>
<circle cx="471.51" cy="315.57" r="1.15" fill="none" stroke="#1d5192" stroke-width="0.95"/>
<circle cx="467.89" cy="315.19" r="1.15" fill="none" stroke="#1d5192" stroke-width="0.95"/>
<circle cx="469.30" cy="314.70" r="1.15" fill="none" stroke="#1d5192" stroke-width="0.95"/>
<circle cx="471.00" cy="314.13" r="1.15" fill="none" stroke="#1d5192" stroke-width="0.95"/>
<circle cx="466.75" cy="314.06" r="1.15" fill="none" stroke="#1d5192" stroke-width="0.95"/>
<circle cx="468.45" cy="313.75" r="1.15" fill="none" stroke="#1d5192" stroke-width="0.95"/>
<circle cx="468.53" cy="313.58" r="1.15" fill="none" stroke="#1d5192" stroke-width="0.95"/>
<circle cx="470.15" cy="313.14" r="1.15" fill="none" stroke="#1d5192" stroke-width="0.95"/>
<circle cx="469.30" cy="312.17" r="1.15" fill="none" stroke="#1d5192" stroke-width="0.95"/>
<circle cx="471.00" cy="312.13" r="1.15" fill="none" stroke="#1d5192" stroke-width="0.95"/>
<circle cx="467.60" cy="311.97" r="1.15" fill="none" stroke="#1d5192" stroke-width="0.95"/>
<circle cx="468.55" cy="311.89" r="1.15" fill="none" stroke="#1d5192" stroke-width="0.95"/>
<circle cx="470.15" cy="310.96" r="1.15" fill="none" stroke="#1d5192" stroke-width="0.95"/>
<circle cx="468.45" cy="310.17" r="1.15" fill="none" stroke="#1d5192" stroke-width="0.95"/>
<circle cx="471.85" cy="310.14" r="1.15" fill="none" stroke="#1d5192" stroke-width="0.95"/>
<circle cx="466.75" cy="309.81" r="1.15" fill="none" stroke="#1d5192" stroke-width="0.95"/>
<circle cx="470.15" cy="309.57" r="1.15" fill="none" stroke="#1d5192" stroke-width="0.95"/>
<circle cx="468.53" cy="309.45" r="1.15" fill="none" stroke="#1d5192" stroke-width="0.95"/>
<circle cx="468.72" cy="309.38" r="1.15" fill="none" stroke="#1d5192" stroke-width="0.95"/>
<circle cx="468.67" cy="309.37" r="1.15" fill="none" stroke="#1d5192" stroke-width="0.95"/>
<circle cx="467.59" cy="309.30" r="1.15" fill="none" stroke="#1d5192" stroke-width="0.95"/>
<circle cx="469.66" cy="309.16" r="1.15" fill="none" stroke="#1d5192" stroke-width="0.95"/>
<circle cx="470.96" cy="309.10" r="1.15" fill="none" stroke="#1d5192" stroke-width="0.95"/>
<circle cx="469.53" cy="308.98" r="1.15" fill="none" stroke="#1d5192" stroke-width="0.95"/>
<circle cx="471.18" cy="308.66" r="1.15" fill="none" stroke="#1d5192" stroke-width="0.95"/>
<circle cx="469.65" cy="308.59" r="1.15" fill="none" stroke="#1d5192" stroke-width="0.95"/>
<circle cx="467.49" cy="308.57" r="1.15" fill="none" stroke="#1d5192" stroke-width="0.95"/>
<circle cx="470.75" cy="308.37" r="1.15" fill="none" stroke="#1d5192" stroke-width="0.95"/>
<circle cx="471.43" cy="308.36" r="1.15" fill="none" stroke="#1d5192" stroke-width="0.95"/>
<circle cx="468.45" cy="307.57" r="1.15" fill="none" stroke="#1d5192" stroke-width="0.95"/>
<circle cx="470.15" cy="307.25" r="1.15" fill="none" stroke="#1d5192" stroke-width="0.95"/>
<circle cx="467.60" cy="306.57" r="1.15" fill="none" stroke="#1d5192" stroke-width="0.95"/>
<circle cx="469.30" cy="305.67" r="1.15" fill="none" stroke="#1d5192" stroke-width="0.95"/>
<circle cx="470.15" cy="304.50" r="1.15" fill="none" stroke="#1d5192" stroke-width="0.95"/>
<circle cx="468.45" cy="304.10" r="1.15" fill="none" stroke="#1d5192" stroke-width="0.95"/>
<circle cx="471.85" cy="303.97" r="1.15" fill="none" stroke="#1d5192" stroke-width="0.95"/>
<circle cx="466.75" cy="303.75" r="1.15" fill="none" stroke="#1d5192" stroke-width="0.95"/>
<circle cx="468.08" cy="303.69" r="1.15" fill="none" stroke="#1d5192" stroke-width="0.95"/>
<circle cx="469.30" cy="302.49" r="1.15" fill="none" stroke="#1d5192" stroke-width="0.95"/>
<circle cx="471.00" cy="302.41" r="1.15" fill="none" stroke="#1d5192" stroke-width="0.95"/>
<circle cx="467.60" cy="302.01" r="1.15" fill="none" stroke="#1d5192" stroke-width="0.95"/>
<circle cx="466.62" cy="301.88" r="1.15" fill="none" stroke="#1d5192" stroke-width="0.95"/>
<circle cx="469.39" cy="301.73" r="1.15" fill="none" stroke="#1d5192" stroke-width="0.95"/>
<circle cx="471.85" cy="301.32" r="1.15" fill="none" stroke="#1d5192" stroke-width="0.95"/>
<circle cx="469.55" cy="301.20" r="1.15" fill="none" stroke="#1d5192" stroke-width="0.95"/>
<circle cx="469.30" cy="294.07" r="1.15" fill="none" stroke="#1d5192" stroke-width="0.95"/>
<circle cx="471.00" cy="293.31" r="1.15" fill="none" stroke="#1d5192" stroke-width="0.95"/>
<circle cx="468.45" cy="293.02" r="1.15" fill="none" stroke="#1d5192" stroke-width="0.95"/>
<circle cx="466.75" cy="292.41" r="1.15" fill="none" stroke="#1d5192" stroke-width="0.95"/>
<circle cx="470.15" cy="292.15" r="1.15" fill="none" stroke="#1d5192" stroke-width="0.95"/>
<circle cx="468.45" cy="291.58" r="1.15" fill="none" stroke="#1d5192" stroke-width="0.95"/>
<circle cx="471.85" cy="291.50" r="1.15" fill="none" stroke="#1d5192" stroke-width="0.95"/>
<circle cx="466.75" cy="291.00" r="1.15" fill="none" stroke="#1d5192" stroke-width="0.95"/>
<circle cx="469.68" cy="291.00" r="1.15" fill="none" stroke="#1d5192" stroke-width="0.95"/>
<circle cx="469.30" cy="289.30" r="1.15" fill="none" stroke="#1d5192" stroke-width="0.95"/>
<circle cx="469.30" cy="286.01" r="1.15" fill="none" stroke="#1d5192" stroke-width="0.95"/>
<circle cx="469.30" cy="279.66" r="1.15" fill="none" stroke="#1d5192" stroke-width="0.95"/>
<line x1="465.10" y1="303.74" x2="473.50" y2="303.74" stroke="#222" stroke-width="0.5"/>
<rect x="478.60" y="338.20" width="2.20" height="2.20" fill="none" stroke="#c8203a" stroke-width="0.95"/>
<rect x="478.60" y="336.93" width="2.20" height="2.20" fill="none" stroke="#c8203a" stroke-width="0.95"/>
<rect x="478.60" y="330.58" width="2.20" height="2.20" fill="none" stroke="#c8203a" stroke-width="0.95"/>
<rect x="478.60" y="325.50" width="2.20" height="2.20" fill="none" stroke="#c8203a" stroke-width="0.95"/>
<rect x="478.60" y="322.76" width="2.20" height="2.20" fill="none" stroke="#c8203a" stroke-width="0.95"/>
<rect x="478.60" y="319.19" width="2.20" height="2.20" fill="none" stroke="#c8203a" stroke-width="0.95"/>
<rect x="478.60" y="317.14" width="2.20" height="2.20" fill="none" stroke="#c8203a" stroke-width="0.95"/>
<rect x="479.45" y="316.11" width="2.20" height="2.20" fill="none" stroke="#c8203a" stroke-width="0.95"/>
<rect x="478.60" y="314.36" width="2.20" height="2.20" fill="none" stroke="#c8203a" stroke-width="0.95"/>
<rect x="480.30" y="313.69" width="2.20" height="2.20" fill="none" stroke="#c8203a" stroke-width="0.95"/>
<rect x="478.60" y="312.23" width="2.20" height="2.20" fill="none" stroke="#c8203a" stroke-width="0.95"/>
<rect x="480.30" y="312.21" width="2.20" height="2.20" fill="none" stroke="#c8203a" stroke-width="0.95"/>
<rect x="478.60" y="309.70" width="2.20" height="2.20" fill="none" stroke="#c8203a" stroke-width="0.95"/>
<rect x="480.30" y="309.64" width="2.20" height="2.20" fill="none" stroke="#c8203a" stroke-width="0.95"/>
<rect x="476.90" y="308.89" width="2.20" height="2.20" fill="none" stroke="#c8203a" stroke-width="0.95"/>
<rect x="478.60" y="307.95" width="2.20" height="2.20" fill="none" stroke="#c8203a" stroke-width="0.95"/>
<rect x="480.30" y="307.71" width="2.20" height="2.20" fill="none" stroke="#c8203a" stroke-width="0.95"/>
<rect x="476.90" y="307.07" width="2.20" height="2.20" fill="none" stroke="#c8203a" stroke-width="0.95"/>
<rect x="481.21" y="306.83" width="2.20" height="2.20" fill="none" stroke="#c8203a" stroke-width="0.95"/>
<rect x="478.60" y="306.62" width="2.20" height="2.20" fill="none" stroke="#c8203a" stroke-width="0.95"/>
<rect x="476.05" y="305.98" width="2.20" height="2.20" fill="none" stroke="#c8203a" stroke-width="0.95"/>
<rect x="479.45" y="305.63" width="2.20" height="2.20" fill="none" stroke="#c8203a" stroke-width="0.95"/>
<rect x="477.75" y="305.54" width="2.20" height="2.20" fill="none" stroke="#c8203a" stroke-width="0.95"/>
<rect x="481.15" y="305.36" width="2.20" height="2.20" fill="none" stroke="#c8203a" stroke-width="0.95"/>
<rect x="479.45" y="305.07" width="2.20" height="2.20" fill="none" stroke="#c8203a" stroke-width="0.95"/>
<rect x="480.30" y="304.74" width="2.20" height="2.20" fill="none" stroke="#c8203a" stroke-width="0.95"/>
<rect x="477.75" y="304.20" width="2.20" height="2.20" fill="none" stroke="#c8203a" stroke-width="0.95"/>
<rect x="476.05" y="303.90" width="2.20" height="2.20" fill="none" stroke="#c8203a" stroke-width="0.95"/>
<rect x="479.45" y="303.37" width="2.20" height="2.20" fill="none" stroke="#c8203a" stroke-width="0.95"/>
<rect x="481.15" y="303.17" width="2.20" height="2.20" fill="none" stroke="#c8203a" stroke-width="0.95"/>
<rect x="477.75" y="302.52" width="2.20" height="2.20" fill="none" stroke="#c8203a" stroke-width="0.95"/>
<rect x="480.30" y="302.22" width="2.20" height="2.20" fill="none" stroke="#c8203a" stroke-width="0.95"/>
<rect x="478.60" y="300.91" width="2.20" height="2.20" fill="none" stroke="#c8203a" stroke-width="0.95"/>
<rect x="480.30" y="300.52" width="2.20" height="2.20" fill="none" stroke="#c8203a" stroke-width="0.95"/>
<rect x="478.60" y="293.80" width="2.20" height="2.20" fill="none" stroke="#c8203a" stroke-width="0.95"/>
<rect x="480.30" y="293.16" width="2.20" height="2.20" fill="none" stroke="#c8203a" stroke-width="0.95"/>
<rect x="478.60" y="291.89" width="2.20" height="2.20" fill="none" stroke="#c8203a" stroke-width="0.95"/>
<rect x="478.60" y="289.99" width="2.20" height="2.20" fill="none" stroke="#c8203a" stroke-width="0.95"/>
<line x1="475.50" y1="306.28" x2="483.90" y2="306.28" stroke="#222" stroke-width="0.5"/>
<line x1="504.10" y1="339.30" x2="504.10" y2="341.50" stroke="#231f20" stroke-width="0.8"/>
<text x="504.10" y="349.80" font-size="7.0" text-anchor="middle" font-style="italic" textLength="23.50" lengthAdjust="spacingAndGlyphs">Otud7b</text>
<circle cx="499.10" cy="334.22" r="1.15" fill="none" stroke="#1d5192" stroke-width="0.95"/>
<circle cx="499.10" cy="331.68" r="1.15" fill="none" stroke="#1d5192" stroke-width="0.95"/>
<circle cx="499.10" cy="324.61" r="1.15" fill="none" stroke="#1d5192" stroke-width="0.95"/>
<circle cx="500.80" cy="324.10" r="1.15" fill="none" stroke="#1d5192" stroke-width="0.95"/>
<circle cx="499.10" cy="323.30" r="1.15" fill="none" stroke="#1d5192" stroke-width="0.95"/>
<circle cx="500.80" cy="322.69" r="1.15" fill="none" stroke="#1d5192" stroke-width="0.95"/>
<circle cx="497.40" cy="322.40" r="1.15" fill="none" stroke="#1d5192" stroke-width="0.95"/>
<circle cx="496.66" cy="322.33" r="1.15" fill="none" stroke="#1d5192" stroke-width="0.95"/>
<circle cx="499.10" cy="319.58" r="1.15" fill="none" stroke="#1d5192" stroke-width="0.95"/>
<circle cx="500.80" cy="319.44" r="1.15" fill="none" stroke="#1d5192" stroke-width="0.95"/>
<circle cx="498.25" cy="318.61" r="1.15" fill="none" stroke="#1d5192" stroke-width="0.95"/>
<circle cx="499.95" cy="318.44" r="1.15" fill="none" stroke="#1d5192" stroke-width="0.95"/>
<circle cx="501.65" cy="318.37" r="1.15" fill="none" stroke="#1d5192" stroke-width="0.95"/>
<circle cx="496.55" cy="318.25" r="1.15" fill="none" stroke="#1d5192" stroke-width="0.95"/>
<circle cx="499.36" cy="318.13" r="1.15" fill="none" stroke="#1d5192" stroke-width="0.95"/>
<circle cx="500.71" cy="317.84" r="1.15" fill="none" stroke="#1d5192" stroke-width="0.95"/>
<circle cx="496.77" cy="317.83" r="1.15" fill="none" stroke="#1d5192" stroke-width="0.95"/>
<circle cx="496.76" cy="317.50" r="1.15" fill="none" stroke="#1d5192" stroke-width="0.95"/>
<circle cx="500.43" cy="317.41" r="1.15" fill="none" stroke="#1d5192" stroke-width="0.95"/>
<circle cx="498.25" cy="317.23" r="1.15" fill="none" stroke="#1d5192" stroke-width="0.95"/>
<circle cx="501.65" cy="316.95" r="1.15" fill="none" stroke="#1d5192" stroke-width="0.95"/>
<circle cx="499.10" cy="316.07" r="1.15" fill="none" stroke="#1d5192" stroke-width="0.95"/>
<circle cx="500.80" cy="315.73" r="1.15" fill="none" stroke="#1d5192" stroke-width="0.95"/>
<circle cx="497.40" cy="315.42" r="1.15" fill="none" stroke="#1d5192" stroke-width="0.95"/>
<circle cx="501.33" cy="315.40" r="1.15" fill="none" stroke="#1d5192" stroke-width="0.95"/>
<circle cx="496.77" cy="315.38" r="1.15" fill="none" stroke="#1d5192" stroke-width="0.95"/>
<circle cx="499.10" cy="314.76" r="1.15" fill="none" stroke="#1d5192" stroke-width="0.95"/>
<circle cx="499.85" cy="314.54" r="1.15" fill="none" stroke="#1d5192" stroke-width="0.95"/>
<circle cx="497.11" cy="314.51" r="1.15" fill="none" stroke="#1d5192" stroke-width="0.95"/>
<circle cx="500.48" cy="314.34" r="1.15" fill="none" stroke="#1d5192" stroke-width="0.95"/>
<circle cx="499.93" cy="314.06" r="1.15" fill="none" stroke="#1d5192" stroke-width="0.95"/>
<circle cx="497.67" cy="313.98" r="1.15" fill="none" stroke="#1d5192" stroke-width="0.95"/>
<circle cx="501.65" cy="313.57" r="1.15" fill="none" stroke="#1d5192" stroke-width="0.95"/>
<circle cx="499.10" cy="312.96" r="1.15" fill="none" stroke="#1d5192" stroke-width="0.95"/>
<circle cx="499.10" cy="311.65" r="1.15" fill="none" stroke="#1d5192" stroke-width="0.95"/>
<circle cx="500.80" cy="311.59" r="1.15" fill="none" stroke="#1d5192" stroke-width="0.95"/>
<circle cx="497.40" cy="311.43" r="1.15" fill="none" stroke="#1d5192" stroke-width="0.95"/>
<circle cx="497.53" cy="311.09" r="1.15" fill="none" stroke="#1d5192" stroke-width="0.95"/>
<circle cx="500.59" cy="310.96" r="1.15" fill="none" stroke="#1d5192" stroke-width="0.95"/>
<circle cx="499.22" cy="310.86" r="1.15" fill="none" stroke="#1d5192" stroke-width="0.95"/>
<circle cx="500.58" cy="310.83" r="1.15" fill="none" stroke="#1d5192" stroke-width="0.95"/>
<circle cx="498.51" cy="310.61" r="1.15" fill="none" stroke="#1d5192" stroke-width="0.95"/>
<circle cx="498.19" cy="310.59" r="1.15" fill="none" stroke="#1d5192" stroke-width="0.95"/>
<circle cx="501.72" cy="310.55" r="1.15" fill="none" stroke="#1d5192" stroke-width="0.95"/>
<circle cx="496.55" cy="310.29" r="1.15" fill="none" stroke="#1d5192" stroke-width="0.95"/>
<circle cx="500.07" cy="310.20" r="1.15" fill="none" stroke="#1d5192" stroke-width="0.95"/>
<circle cx="499.06" cy="310.10" r="1.15" fill="none" stroke="#1d5192" stroke-width="0.95"/>
<circle cx="499.31" cy="309.61" r="1.15" fill="none" stroke="#1d5192" stroke-width="0.95"/>
<circle cx="497.40" cy="309.35" r="1.15" fill="none" stroke="#1d5192" stroke-width="0.95"/>
<circle cx="500.80" cy="308.54" r="1.15" fill="none" stroke="#1d5192" stroke-width="0.95"/>
<circle cx="500.34" cy="308.47" r="1.15" fill="none" stroke="#1d5192" stroke-width="0.95"/>
<circle cx="499.10" cy="308.03" r="1.15" fill="none" stroke="#1d5192" stroke-width="0.95"/>
<circle cx="499.95" cy="307.03" r="1.15" fill="none" stroke="#1d5192" stroke-width="0.95"/>
<circle cx="498.25" cy="307.02" r="1.15" fill="none" stroke="#1d5192" stroke-width="0.95"/>
<circle cx="501.65" cy="306.58" r="1.15" fill="none" stroke="#1d5192" stroke-width="0.95"/>
<circle cx="499.10" cy="305.78" r="1.15" fill="none" stroke="#1d5192" stroke-width="0.95"/>
<circle cx="499.10" cy="302.96" r="1.15" fill="none" stroke="#1d5192" stroke-width="0.95"/>
<circle cx="500.80" cy="302.90" r="1.15" fill="none" stroke="#1d5192" stroke-width="0.95"/>
<circle cx="497.40" cy="302.52" r="1.15" fill="none" stroke="#1d5192" stroke-width="0.95"/>
<circle cx="500.27" cy="302.48" r="1.15" fill="none" stroke="#1d5192" stroke-width="0.95"/>
<circle cx="499.10" cy="295.53" r="1.15" fill="none" stroke="#1d5192" stroke-width="0.95"/>
<circle cx="500.80" cy="294.90" r="1.15" fill="none" stroke="#1d5192" stroke-width="0.95"/>
<circle cx="499.10" cy="294.26" r="1.15" fill="none" stroke="#1d5192" stroke-width="0.95"/>
<circle cx="500.80" cy="293.63" r="1.15" fill="none" stroke="#1d5192" stroke-width="0.95"/>
<circle cx="499.10" cy="292.36" r="1.15" fill="none" stroke="#1d5192" stroke-width="0.95"/>
<circle cx="499.10" cy="291.09" r="1.15" fill="none" stroke="#1d5192" stroke-width="0.95"/>
<circle cx="499.10" cy="289.82" r="1.15" fill="none" stroke="#1d5192" stroke-width="0.95"/>
<line x1="494.90" y1="308.82" x2="503.30" y2="308.82" stroke="#222" stroke-width="0.5"/>
<rect x="508.40" y="332.36" width="2.20" height="2.20" fill="none" stroke="#c8203a" stroke-width="0.95"/>
<rect x="508.40" y="328.04" width="2.20" height="2.20" fill="none" stroke="#c8203a" stroke-width="0.95"/>
<rect x="508.40" y="320.68" width="2.20" height="2.20" fill="none" stroke="#c8203a" stroke-width="0.95"/>
<rect x="508.40" y="318.81" width="2.20" height="2.20" fill="none" stroke="#c8203a" stroke-width="0.95"/>
<rect x="510.10" y="318.45" width="2.20" height="2.20" fill="none" stroke="#c8203a" stroke-width="0.95"/>
<rect x="508.40" y="317.04" width="2.20" height="2.20" fill="none" stroke="#c8203a" stroke-width="0.95"/>
<rect x="510.10" y="316.54" width="2.20" height="2.20" fill="none" stroke="#c8203a" stroke-width="0.95"/>
<rect x="507.55" y="315.89" width="2.20" height="2.20" fill="none" stroke="#c8203a" stroke-width="0.95"/>
<rect x="508.40" y="314.11" width="2.20" height="2.20" fill="none" stroke="#c8203a" stroke-width="0.95"/>
<rect x="509.25" y="312.86" width="2.20" height="2.20" fill="none" stroke="#c8203a" stroke-width="0.95"/>
<rect x="508.40" y="311.63" width="2.20" height="2.20" fill="none" stroke="#c8203a" stroke-width="0.95"/>
<rect x="510.10" y="311.61" width="2.20" height="2.20" fill="none" stroke="#c8203a" stroke-width="0.95"/>
<rect x="506.70" y="311.50" width="2.20" height="2.20" fill="none" stroke="#c8203a" stroke-width="0.95"/>
<rect x="510.72" y="311.35" width="2.20" height="2.20" fill="none" stroke="#c8203a" stroke-width="0.95"/>
<rect x="507.90" y="311.29" width="2.20" height="2.20" fill="none" stroke="#c8203a" stroke-width="0.95"/>
<rect x="510.23" y="310.88" width="2.20" height="2.20" fill="none" stroke="#c8203a" stroke-width="0.95"/>
<rect x="509.33" y="310.88" width="2.20" height="2.20" fill="none" stroke="#c8203a" stroke-width="0.95"/>
<rect x="510.38" y="310.60" width="2.20" height="2.20" fill="none" stroke="#c8203a" stroke-width="0.95"/>
<rect x="510.11" y="310.58" width="2.20" height="2.20" fill="none" stroke="#c8203a" stroke-width="0.95"/>
<rect x="508.40" y="309.33" width="2.20" height="2.20" fill="none" stroke="#c8203a" stroke-width="0.95"/>
<rect x="510.10" y="309.30" width="2.20" height="2.20" fill="none" stroke="#c8203a" stroke-width="0.95"/>
<rect x="506.70" y="309.29" width="2.20" height="2.20" fill="none" stroke="#c8203a" stroke-width="0.95"/>
<rect x="510.27" y="309.08" width="2.20" height="2.20" fill="none" stroke="#c8203a" stroke-width="0.95"/>
<rect x="510.58" y="309.01" width="2.20" height="2.20" fill="none" stroke="#c8203a" stroke-width="0.95"/>
<rect x="510.96" y="308.92" width="2.20" height="2.20" fill="none" stroke="#c8203a" stroke-width="0.95"/>
<rect x="508.40" y="307.96" width="2.20" height="2.20" fill="none" stroke="#c8203a" stroke-width="0.95"/>
<rect x="506.70" y="307.84" width="2.20" height="2.20" fill="none" stroke="#c8203a" stroke-width="0.95"/>
<rect x="510.10" y="307.53" width="2.20" height="2.20" fill="none" stroke="#c8203a" stroke-width="0.95"/>
<rect x="507.55" y="306.89" width="2.20" height="2.20" fill="none" stroke="#c8203a" stroke-width="0.95"/>
<rect x="505.85" y="306.71" width="2.20" height="2.20" fill="none" stroke="#c8203a" stroke-width="0.95"/>
<rect x="508.40" y="304.94" width="2.20" height="2.20" fill="none" stroke="#c8203a" stroke-width="0.95"/>
<rect x="510.10" y="304.68" width="2.20" height="2.20" fill="none" stroke="#c8203a" stroke-width="0.95"/>
<rect x="506.70" y="304.63" width="2.20" height="2.20" fill="none" stroke="#c8203a" stroke-width="0.95"/>
<rect x="509.19" y="304.53" width="2.20" height="2.20" fill="none" stroke="#c8203a" stroke-width="0.95"/>
<rect x="508.53" y="304.40" width="2.20" height="2.20" fill="none" stroke="#c8203a" stroke-width="0.95"/>
<rect x="508.40" y="302.39" width="2.20" height="2.20" fill="none" stroke="#c8203a" stroke-width="0.95"/>
<rect x="510.10" y="302.21" width="2.20" height="2.20" fill="none" stroke="#c8203a" stroke-width="0.95"/>
<rect x="506.70" y="301.99" width="2.20" height="2.20" fill="none" stroke="#c8203a" stroke-width="0.95"/>
<rect x="509.58" y="301.79" width="2.20" height="2.20" fill="none" stroke="#c8203a" stroke-width="0.95"/>
<rect x="510.09" y="301.72" width="2.20" height="2.20" fill="none" stroke="#c8203a" stroke-width="0.95"/>
<rect x="508.40" y="293.80" width="2.20" height="2.20" fill="none" stroke="#c8203a" stroke-width="0.95"/>
<rect x="510.10" y="293.16" width="2.20" height="2.20" fill="none" stroke="#c8203a" stroke-width="0.95"/>
<rect x="508.40" y="292.53" width="2.20" height="2.20" fill="none" stroke="#c8203a" stroke-width="0.95"/>
<rect x="508.40" y="291.26" width="2.20" height="2.20" fill="none" stroke="#c8203a" stroke-width="0.95"/>
<rect x="508.40" y="289.35" width="2.20" height="2.20" fill="none" stroke="#c8203a" stroke-width="0.95"/>
<rect x="508.40" y="286.81" width="2.20" height="2.20" fill="none" stroke="#c8203a" stroke-width="0.95"/>
<line x1="505.30" y1="309.58" x2="513.70" y2="309.58" stroke="#222" stroke-width="0.5"/>
<text x="346.00" y="266.90" font-size="6.8" textLength="28.50" lengthAdjust="spacingAndGlyphs"><tspan font-style="italic">P</tspan> = .0203</text>
<line x1="346.00" y1="274.80" x2="361.80" y2="274.80" stroke="#231f20" stroke-width="1.0"/>
<text x="353.90" y="275.00" font-size="7" text-anchor="middle">*</text>
<text x="459.70" y="266.90" font-size="6.8" textLength="28.60" lengthAdjust="spacingAndGlyphs"><tspan font-style="italic">P</tspan> = .0138</text>
<line x1="466.00" y1="274.80" x2="482.00" y2="274.80" stroke="#231f20" stroke-width="1.0"/>
<text x="474.00" y="275.00" font-size="7" text-anchor="middle">*</text>
<text x="2.60" y="403.90" font-size="10.2" font-weight="bold" style="stroke:#231f20;stroke-width:0.3px">G</text>
<line x1="35.30" y1="408.80" x2="35.30" y2="488.95" stroke="#231f20" stroke-width="1.0"/>
<line x1="34.85" y1="488.50" x2="125.00" y2="488.50" stroke="#231f20" stroke-width="1.0"/>
<line x1="32.30" y1="488.50" x2="35.30" y2="488.50" stroke="#231f20" stroke-width="1.0"/>
<text x="29.50" y="491.10" font-size="6.5" text-anchor="end">0</text>
<line x1="35.30" y1="488.50" x2="35.30" y2="491.00" stroke="#231f20" stroke-width="1.0"/>
<text x="35.30" y="500.50" font-size="6.5" text-anchor="middle">0</text>
<line x1="32.30" y1="472.88" x2="35.30" y2="472.88" stroke="#231f20" stroke-width="1.0"/>
<text x="29.50" y="475.48" font-size="6.5" text-anchor="end">20</text>
<line x1="53.04" y1="488.50" x2="53.04" y2="491.00" stroke="#231f20" stroke-width="1.0"/>
<text x="53.04" y="500.50" font-size="6.5" text-anchor="middle">20</text>
<line x1="32.30" y1="457.26" x2="35.30" y2="457.26" stroke="#231f20" stroke-width="1.0"/>
<text x="29.50" y="459.86" font-size="6.5" text-anchor="end">40</text>
<line x1="70.78" y1="488.50" x2="70.78" y2="491.00" stroke="#231f20" stroke-width="1.0"/>
<text x="70.78" y="500.50" font-size="6.5" text-anchor="middle">40</text>
<line x1="32.30" y1="441.64" x2="35.30" y2="441.64" stroke="#231f20" stroke-width="1.0"/>
<text x="29.50" y="444.24" font-size="6.5" text-anchor="end">60</text>
<line x1="88.52" y1="488.50" x2="88.52" y2="491.00" stroke="#231f20" stroke-width="1.0"/>
<text x="88.52" y="500.50" font-size="6.5" text-anchor="middle">60</text>
<line x1="32.30" y1="426.02" x2="35.30" y2="426.02" stroke="#231f20" stroke-width="1.0"/>
<text x="29.50" y="428.62" font-size="6.5" text-anchor="end">80</text>
<line x1="106.26" y1="488.50" x2="106.26" y2="491.00" stroke="#231f20" stroke-width="1.0"/>
<text x="106.26" y="500.50" font-size="6.5" text-anchor="middle">80</text>
<line x1="32.30" y1="410.40" x2="35.30" y2="410.40" stroke="#231f20" stroke-width="1.0"/>
<text x="29.50" y="413.00" font-size="6.5" text-anchor="end">100</text>
<line x1="124.00" y1="488.50" x2="124.00" y2="491.00" stroke="#231f20" stroke-width="1.0"/>
<text x="124.00" y="500.50" font-size="6.5" text-anchor="middle">100</text>
<text x="54.90" y="511.60" font-size="6.9" textLength="53.60" lengthAdjust="spacingAndGlyphs">100% - Specificity%</text>
<text x="12.90" y="448.80" font-size="6.6" text-anchor="middle" textLength="32.30" lengthAdjust="spacingAndGlyphs" transform="rotate(-90 12.90 448.80)">Sensitivity%</text>
<text x="41.20" y="415.40" font-size="6.3" textLength="42.40" lengthAdjust="spacingAndGlyphs">AUC = 0.6216</text>
<text x="41.20" y="423.00" font-size="6.3" textLength="28.80" lengthAdjust="spacingAndGlyphs">P = .0132</text>
<line x1="48.60" y1="476.39" x2="124.00" y2="410.40" stroke="#a8283a" stroke-width="1.3" stroke-dasharray="3.0,3.8"/>
<polyline points="35.30,484.60 37.07,484.60 37.07,483.03 39.73,483.03 39.73,482.25 42.40,482.25 42.40,480.69 45.06,480.69 45.06,479.91 47.72,479.91 47.72,479.13 50.29,479.13 50.29,470.54 51.27,470.54 51.27,468.19 52.15,468.19 52.15,465.07 53.93,465.07 53.93,463.51 55.70,463.51 55.70,460.38 56.59,460.38 56.59,457.26 57.47,457.26 57.47,454.92 58.36,454.92 58.36,452.57 65.46,452.57 65.46,449.45 66.79,449.45 66.79,446.33 68.12,446.33 68.12,443.20 69.45,443.20 69.45,440.86 71.67,440.86 71.67,439.30 75.22,439.30 75.22,438.13 78.32,438.13 78.32,436.56 79.65,436.56 79.65,433.83 80.98,433.83 80.98,431.17 82.31,431.17 82.31,429.22 84.97,429.22 84.97,427.97 87.63,427.97 87.63,426.49 90.29,426.49 90.29,425.24 93.84,425.24 93.84,422.90 95.17,422.90 95.17,420.16 98.28,420.16 98.28,418.52 101.83,418.52 101.83,417.43 104.49,417.43 104.49,415.87 108.03,415.87 108.03,414.70 111.58,414.70 111.58,413.13 115.13,413.13 115.13,411.96 117.35,411.96 117.35,411.02 123.11,411.02 123.11,410.40 124.00,410.40" fill="none" stroke="#2d5f93" stroke-width="1.15" stroke-linejoin="round"/>
<text x="143.60" y="403.90" font-size="10.2" font-weight="bold" style="stroke:#231f20;stroke-width:0.3px">H</text>
<line x1="185.40" y1="411.60" x2="185.40" y2="488.55" stroke="#231f20" stroke-width="1.0"/>
<line x1="184.90" y1="488.10" x2="275.60" y2="488.10" stroke="#231f20" stroke-width="1.0"/>
<line x1="182.40" y1="488.10" x2="185.40" y2="488.10" stroke="#231f20" stroke-width="1.0"/>
<text x="179.50" y="490.80" font-size="6.5" text-anchor="end">0</text>
<line x1="182.40" y1="469.35" x2="185.40" y2="469.35" stroke="#231f20" stroke-width="1.0"/>
<text x="179.50" y="472.05" font-size="6.5" text-anchor="end">25</text>
<line x1="182.40" y1="450.60" x2="185.40" y2="450.60" stroke="#231f20" stroke-width="1.0"/>
<text x="179.50" y="453.30" font-size="6.5" text-anchor="end">50</text>
<line x1="182.40" y1="431.85" x2="185.40" y2="431.85" stroke="#231f20" stroke-width="1.0"/>
<text x="179.50" y="434.55" font-size="6.5" text-anchor="end">75</text>
<line x1="182.40" y1="413.10" x2="185.40" y2="413.10" stroke="#231f20" stroke-width="1.0"/>
<text x="179.50" y="415.80" font-size="6.5" text-anchor="end">100</text>
<line x1="185.40" y1="488.10" x2="185.40" y2="490.60" stroke="#231f20" stroke-width="1.0"/>
<text x="185.40" y="500.30" font-size="6.5" text-anchor="middle">0</text>
<line x1="202.94" y1="488.10" x2="202.94" y2="490.60" stroke="#231f20" stroke-width="1.0"/>
<text x="202.94" y="500.30" font-size="6.5" text-anchor="middle">20</text>
<line x1="220.48" y1="488.10" x2="220.48" y2="490.60" stroke="#231f20" stroke-width="1.0"/>
<text x="220.48" y="500.30" font-size="6.5" text-anchor="middle">40</text>
<line x1="238.02" y1="488.10" x2="238.02" y2="490.60" stroke="#231f20" stroke-width="1.0"/>
<text x="238.02" y="500.30" font-size="6.5" text-anchor="middle">60</text>
<line x1="255.56" y1="488.10" x2="255.56" y2="490.60" stroke="#231f20" stroke-width="1.0"/>
<text x="255.56" y="500.30" font-size="6.5" text-anchor="middle">80</text>
<line x1="273.10" y1="488.10" x2="273.10" y2="490.60" stroke="#231f20" stroke-width="1.0"/>
<text x="273.10" y="500.30" font-size="6.5" text-anchor="middle">100</text>
<text x="211.20" y="511.40" font-size="6.9" textLength="39.10" lengthAdjust="spacingAndGlyphs">Days after HCT</text>
<text x="153.20" y="449.40" font-size="6.4" text-anchor="middle" textLength="58.60" lengthAdjust="spacingAndGlyphs" transform="rotate(-90 153.20 449.40)">Cumulative incidence</text>
<text x="163.00" y="449.40" font-size="6.4" text-anchor="middle" textLength="48.40" lengthAdjust="spacingAndGlyphs" transform="rotate(-90 163.00 449.40)">of II-IV aGVHD (%)</text>
<polyline points="194.61,488.10 195.92,488.10 195.92,487.35 196.80,487.35 196.80,486.60 197.68,486.60 197.68,485.85 198.12,485.85 198.12,484.58 199.43,484.58 199.43,483.60 200.31,483.60 200.31,482.10 201.19,482.10 201.19,480.60 202.94,480.60 202.94,479.10 203.82,479.10 203.82,477.60 205.04,477.60 205.04,474.23 206.45,474.23 206.45,473.85 207.33,473.85 207.33,472.35 208.20,472.35 208.20,471.60 209.08,471.60 209.08,470.10 209.96,470.10 209.96,468.60 211.71,468.60 211.71,467.33 213.46,467.33 213.46,466.35 215.22,466.35 215.22,465.60 216.97,465.60 216.97,464.85 218.73,464.85 218.73,463.35 219.60,463.35 219.60,462.60 221.18,462.60 221.18,461.48 232.23,461.48 232.23,460.73 243.28,460.73 243.28,460.35 246.79,460.35 246.79,459.60 248.89,459.60 248.89,459.30 252.05,459.30 252.05,458.48 255.56,458.48 255.56,458.10 260.82,458.10 260.82,457.35 266.08,457.35 266.08,456.60 269.59,456.60 269.59,456.23 273.10,456.23 273.10,456.23" fill="none" stroke="#cc2a48" stroke-width="1.2"/>
<polyline points="195.05,488.10 201.19,488.10 201.19,486.23 203.82,486.23 203.82,485.10 207.33,485.10 207.33,483.60 209.96,483.60 209.96,482.85 211.71,482.85 211.71,481.35 213.03,481.35 213.03,480.00 222.23,480.00 222.23,478.43 225.74,478.43 225.74,477.98 232.76,477.98 232.76,476.48 241.53,476.48 241.53,476.10 248.54,476.10 248.54,475.73 253.81,475.73 253.81,474.98 260.82,474.98 260.82,474.60 267.84,474.60 267.84,474.23 273.10,474.23 273.10,473.85" fill="none" stroke="#275f8a" stroke-width="1.2"/>
<line x1="191.60" y1="417.00" x2="199.20" y2="417.00" stroke="#cc2a48" stroke-width="1.2"/>
<line x1="191.60" y1="428.10" x2="199.20" y2="428.10" stroke="#275f8a" stroke-width="1.2"/>
<text x="202.00" y="419.30" font-size="6.7" font-style="italic" textLength="18.40" lengthAdjust="spacingAndGlyphs">Otud1</text>
<text x="222.20" y="416.70" font-size="4.2">hi</text>
<text x="227.60" y="419.30" font-size="6.6" textLength="23.10" lengthAdjust="spacingAndGlyphs">(<tspan font-style="italic">n</tspan> = 73)</text>
<text x="202.00" y="430.40" font-size="6.7" font-style="italic" textLength="18.40" lengthAdjust="spacingAndGlyphs">Otud1</text>
<text x="222.20" y="427.80" font-size="4.2">lo</text>
<text x="227.60" y="430.40" font-size="6.6" textLength="23.10" lengthAdjust="spacingAndGlyphs">(<tspan font-style="italic">n</tspan> = 81)</text>
<line x1="275.40" y1="455.80" x2="275.40" y2="474.20" stroke="#231f20" stroke-width="1.0"/>
<text x="283.60" y="465.60" font-size="7.6" text-anchor="middle" transform="rotate(-90 283.60 465.60)">***</text>
<text x="288.90" y="465.30" font-size="6.5" text-anchor="middle" textLength="27.60" lengthAdjust="spacingAndGlyphs" transform="rotate(-90 288.90 465.30)"><tspan font-style="italic">P</tspan> = .0007</text>
<text x="303.40" y="403.90" font-size="10.2" font-weight="bold" style="stroke:#231f20;stroke-width:0.3px">I</text>
<line x1="352.00" y1="408.40" x2="352.00" y2="488.95" stroke="#231f20" stroke-width="1.0"/>
<line x1="351.55" y1="488.50" x2="451.00" y2="488.50" stroke="#231f20" stroke-width="1.0"/>
<line x1="349.00" y1="488.50" x2="352.00" y2="488.50" stroke="#231f20" stroke-width="1.0"/>
<text x="345.90" y="491.10" font-size="6.5" text-anchor="end">40</text>
<line x1="349.00" y1="462.04" x2="352.00" y2="462.04" stroke="#231f20" stroke-width="1.0"/>
<text x="345.90" y="464.64" font-size="6.5" text-anchor="end">60</text>
<line x1="349.00" y1="435.58" x2="352.00" y2="435.58" stroke="#231f20" stroke-width="1.0"/>
<text x="345.90" y="438.18" font-size="6.5" text-anchor="end">80</text>
<line x1="349.00" y1="409.12" x2="352.00" y2="409.12" stroke="#231f20" stroke-width="1.0"/>
<text x="345.90" y="411.72" font-size="6.5" text-anchor="end">100</text>
<line x1="352.00" y1="488.50" x2="352.00" y2="491.00" stroke="#231f20" stroke-width="1.0"/>
<text x="352.00" y="500.60" font-size="6.5" text-anchor="middle">0</text>
<line x1="376.00" y1="488.50" x2="376.00" y2="491.00" stroke="#231f20" stroke-width="1.0"/>
<text x="376.00" y="500.60" font-size="6.5" text-anchor="middle">20</text>
<line x1="400.00" y1="488.50" x2="400.00" y2="491.00" stroke="#231f20" stroke-width="1.0"/>
<text x="400.00" y="500.60" font-size="6.5" text-anchor="middle">40</text>
<line x1="424.00" y1="488.50" x2="424.00" y2="491.00" stroke="#231f20" stroke-width="1.0"/>
<text x="424.00" y="500.60" font-size="6.5" text-anchor="middle">60</text>
<line x1="448.00" y1="488.50" x2="448.00" y2="491.00" stroke="#231f20" stroke-width="1.0"/>
<text x="448.00" y="500.60" font-size="6.5" text-anchor="middle">80</text>
<text x="378.50" y="511.80" font-size="7.0" textLength="47.70" lengthAdjust="spacingAndGlyphs">Months after HCT</text>
<text x="366.20" y="521.50" font-size="7.0" textLength="70.70" lengthAdjust="spacingAndGlyphs">number of at-risk patients</text>
<text x="331.40" y="446.80" font-size="6.4" text-anchor="middle" textLength="58.80" lengthAdjust="spacingAndGlyphs" transform="rotate(-90 331.40 446.80)">Percent of survival (%)</text>
<polyline points="352.00,409.12 354.40,409.12 354.40,411.77 356.80,411.77 356.80,414.41 359.20,414.41 359.20,417.06 360.40,417.06 360.40,418.38 361.60,418.38 361.60,421.03 362.80,421.03 362.80,422.35 365.20,422.35 365.20,423.67 367.00,423.67 367.00,426.32 376.84,426.32 376.84,428.97 381.52,428.97 381.52,431.61 386.80,431.61 386.80,434.26 439.00,434.26 439.00,434.26" fill="none" stroke="#275f8a" stroke-width="1.2"/>
<polyline points="352.00,409.12 353.20,409.12 353.20,411.77 354.40,411.77 354.40,415.74 355.60,415.74 355.60,419.70 356.80,419.70 356.80,423.67 358.00,423.67 358.00,425.00 366.40,425.00 366.40,425.00 367.60,425.00 367.60,426.32 368.80,426.32 368.80,428.97 370.00,428.97 370.00,431.61 371.20,431.61 371.20,434.92 372.40,434.92 372.40,436.90 374.80,436.90 374.80,439.55 377.20,439.55 377.20,440.87 380.44,440.87 380.44,442.19 397.96,442.19 397.96,444.84 411.40,444.84 411.40,448.81 417.52,448.81 417.52,455.43 439.00,455.43 439.00,455.43" fill="none" stroke="#cc2a48" stroke-width="1.2"/>
<line x1="357.20" y1="467.00" x2="366.00" y2="467.00" stroke="#cc2a48" stroke-width="1.2"/>
<line x1="357.20" y1="477.70" x2="366.00" y2="477.70" stroke="#275f8a" stroke-width="1.2"/>
<text x="368.00" y="469.30" font-size="6.7" font-style="italic" textLength="18.80" lengthAdjust="spacingAndGlyphs">Otud1</text>
<text x="388.70" y="466.70" font-size="4.2">hi</text>
<text x="394.00" y="469.30" font-size="6.6" textLength="23.10" lengthAdjust="spacingAndGlyphs">(<tspan font-style="italic">n</tspan> = 73)</text>
<text x="368.00" y="480.00" font-size="6.7" font-style="italic" textLength="18.80" lengthAdjust="spacingAndGlyphs">Otud1</text>
<text x="388.70" y="477.40" font-size="4.2">lo</text>
<text x="394.00" y="480.00" font-size="6.6" textLength="23.10" lengthAdjust="spacingAndGlyphs">(<tspan font-style="italic">n</tspan> = 81)</text>
<line x1="441.20" y1="432.70" x2="441.20" y2="457.10" stroke="#231f20" stroke-width="1.0"/>
<text x="450.30" y="445.60" font-size="6.4" text-anchor="middle" textLength="27.00" lengthAdjust="spacingAndGlyphs" transform="rotate(-90 450.30 445.60)"><tspan font-style="italic">P</tspan> = .1673</text>
<line x1="306.90" y1="533.20" x2="316.20" y2="533.20" stroke="#cc2a48" stroke-width="1.0"/>
<line x1="306.90" y1="545.20" x2="316.20" y2="545.20" stroke="#275f8a" stroke-width="1.0"/>
<text x="318.80" y="536.20" font-size="6.6" font-style="italic" textLength="18.10" lengthAdjust="spacingAndGlyphs">Otud1</text>
<text x="338.20" y="533.60" font-size="4.2">hi</text>
<text x="351.70" y="536.20" font-size="6.8" text-anchor="middle">73</text>
<text x="375.70" y="536.20" font-size="6.8" text-anchor="middle">58</text>
<text x="399.70" y="536.20" font-size="6.8" text-anchor="middle">55</text>
<text x="423.70" y="536.20" font-size="6.8" text-anchor="middle">53</text>
<text x="447.70" y="536.20" font-size="6.8" text-anchor="middle">53</text>
<text x="318.80" y="547.20" font-size="6.6" font-style="italic" textLength="18.10" lengthAdjust="spacingAndGlyphs">Otud1</text>
<text x="338.20" y="544.60" font-size="4.2">lo</text>
<text x="351.70" y="547.20" font-size="6.8" text-anchor="middle">81</text>
<text x="375.70" y="547.20" font-size="6.8" text-anchor="middle">70</text>
<text x="399.70" y="547.20" font-size="6.8" text-anchor="middle">67</text>
<text x="423.70" y="547.20" font-size="6.8" text-anchor="middle">67</text>
<text x="447.70" y="547.20" font-size="6.8" text-anchor="middle">67</text>
</svg></body></html>
